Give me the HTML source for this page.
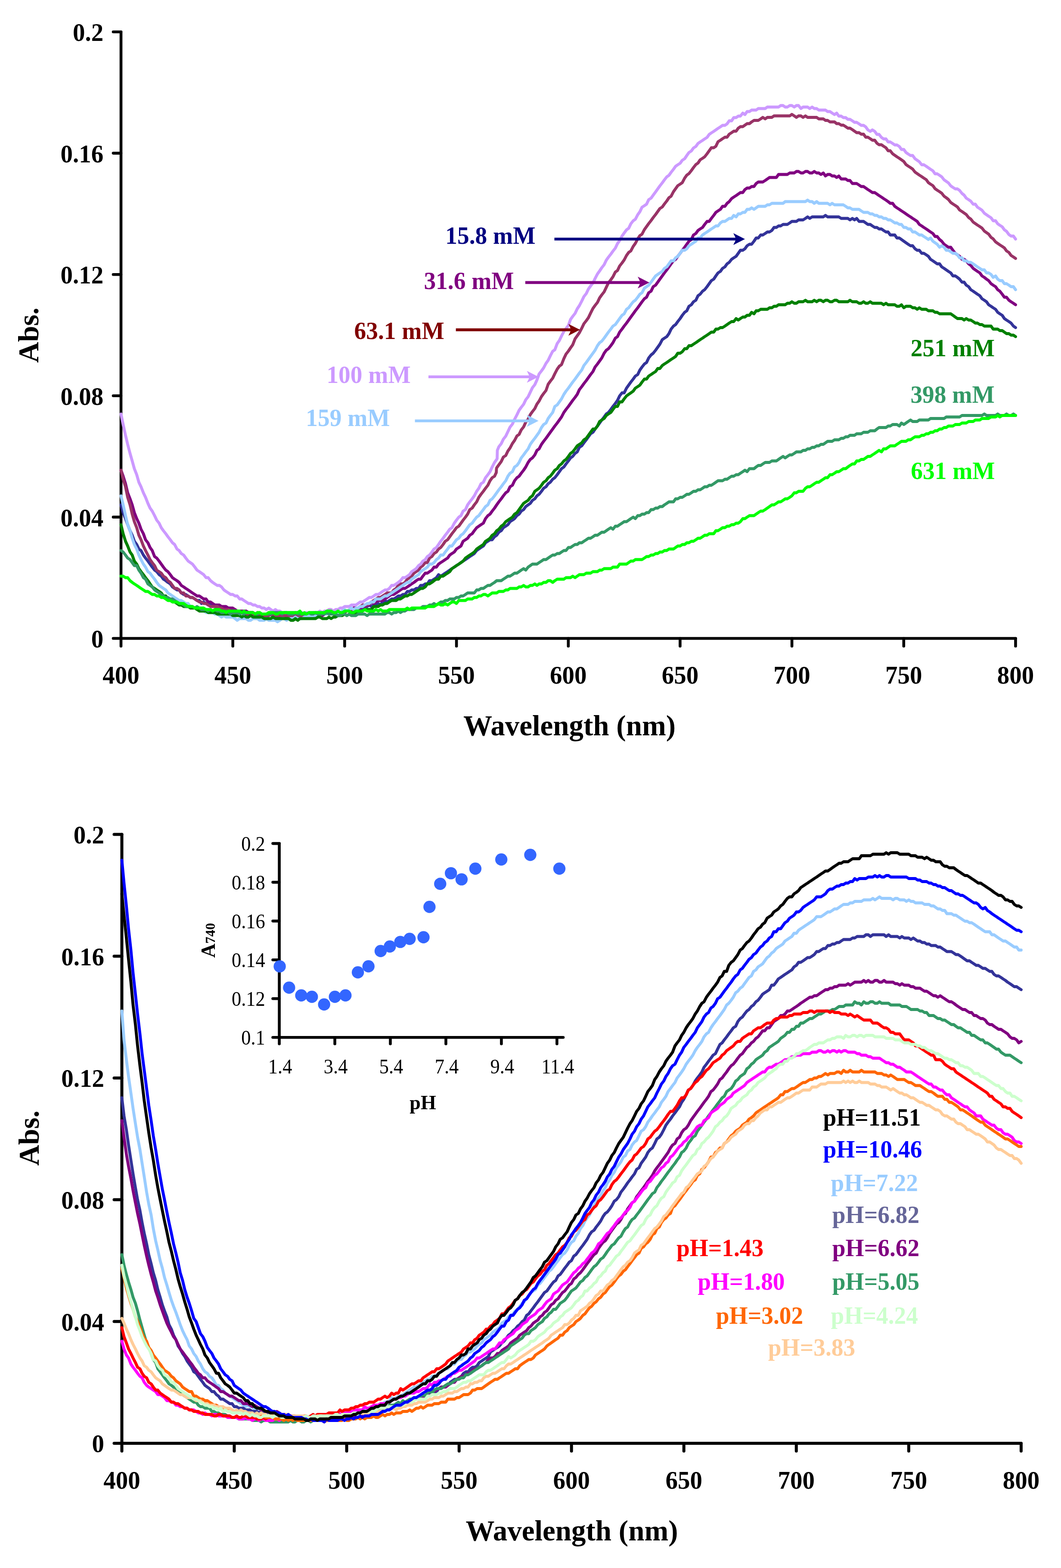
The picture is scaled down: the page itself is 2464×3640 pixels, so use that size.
<!DOCTYPE html>
<html><head><meta charset="utf-8"><title>Absorbance spectra</title>
<style>html,body{margin:0;padding:0;background:#fff;}svg{display:block;}</style></head>
<body>
<svg width="2464" height="3640" viewBox="0 0 2464 3640">
<rect width="2464" height="3640" fill="#fff"/>
<g stroke="#000" stroke-width="6.6" stroke-linecap="round" stroke-linejoin="round" fill="none">
<path d="M281.0 74.0L281.0 1482.0L2358.5 1482.0" fill="none"/>
<path d="M263.0 1482.0L281.0 1482.0"/>
<path d="M263.0 1200.4L281.0 1200.4"/>
<path d="M263.0 918.8L281.0 918.8"/>
<path d="M263.0 637.2L281.0 637.2"/>
<path d="M263.0 355.6L281.0 355.6"/>
<path d="M263.0 74.0L281.0 74.0"/>
<path d="M281.0 1482.0L281.0 1500.0"/>
<path d="M540.7 1482.0L540.7 1500.0"/>
<path d="M800.4 1482.0L800.4 1500.0"/>
<path d="M1060.1 1482.0L1060.1 1500.0"/>
<path d="M1319.8 1482.0L1319.8 1500.0"/>
<path d="M1579.4 1482.0L1579.4 1500.0"/>
<path d="M1839.1 1482.0L1839.1 1500.0"/>
<path d="M2098.8 1482.0L2098.8 1500.0"/>
<path d="M2358.5 1482.0L2358.5 1500.0"/>
</g>
<g fill="none" stroke-width="6.8" stroke-linecap="round" stroke-linejoin="round">
<path d="M281 1172l5 18 5.5 14 5 14 5.5 14 5 10.5 5 14 5.5 7.5 5 10.5 5 3.5 5.5 10.5 5 7 5.5 7 5 7 5 7 5.5 7 5 3.5 5.5 7 5 3.5 5 7 5.5 3.5 5 4 5.5 3.5 5 7 5 3.5 5.5 3.5 5 0 5 7 5.5 3.5 5 0 5.5 3.5 5 3.5 5 0 5.5 3.5 5 3.5 5.5 0 5 7 5-3.5 5.5 3.5 5 3.5 5.5 0 5 0 5 3.5 5.5 3.5 5 0 5 0 5.5 0 5 3.5 5.5 0 5 0 5 3.5 5.5 0 5 0 5.5 0 5 3.5 5 0 5.5 0 5 3.5 5-3.5 5.5 3.5 5 3.5 5.5-3.5 5 3.5 5-3.5 5.5 3.5 5 0 5.5 0 5-3.5 5 7 5.5-3.5 5 0 5.5 0 5 0 5 3.5 5.5-3.5 5 3.5 5-3.5 5.5 0 5 0 5.5 3.5 5-3.5 5 0 5.5 0 5 0 5.5 0 5 0 5 0 5.5 0 5-3.5 5 3.5 5.5 0 5-3.5 5.5 0 5 0 5 0 5.5 0 5-3.5 5.5 0 5 0 5 0 5.5 0 5-3.5 5.5 0 5-3.5 5 3.5 5.5-3.5 5 0 5-3.5 5.5 0 5-3.5 5.5 0 5-3.5 5 3.5 5.5-3.5 5 0 5.5-3.5 5 3.5 5-7 5.5-3.5 5 3.5 5-3.5 5.5-3.5 5 0 5.5-3.5 5-3.5 5 0 5.5-3.5 5 0 5.5-7 5 0 5-3.5 5.5 0 5-3.5 5.5 0 5-7 5 0 5.5-3.5 5 0 5-7.5 5.5 0 5-3.5 5.5-3.5 5-7 5 3.5 5.5-3.5 5-3.5 5.5-3.5 5-3.5 5-3.5 5.5-3.5 5-3.5 5.5-3.5 5-3.5 5-3.5 5.5-3.5 5-3.5 5-3.5 5.5-3.5 5-3.5 5.5-7 5-3.5 5-3.5 5.5-3.5 5-7.5 5.5-3.5 5-3.5 5 0 5.5-7 5-3.5 5-7 5.5-3.5 5-7 5.5-3.5 5-3.5 5-7 5.5-3.5 5-3.5 5.5-7 5-3.5 5-7 5.5-3.5 5-7 5.5-4 5-3.5 5-7 5.5-3.5 5-7 5-3.5 5.5-7 5-7 5.5-3.5 5-7 5-3.5 5.5-7 5-3.5 5.5-7 5-7 5-7 5.5-4 5-7 5.5-7 5-7 5-3.5 5.5-7 5-3.5 5-10.5 5.5-3.5 5-7 5.5-7 5-7 5-7 5.5-3.5 5-7.5 5.5-7 5-7 5-7 5.5-7 5-7 5-3.5 5.5-7 5-7 5.5-7 5-7 5-10.5 5.5-7 5 0 5.5-11 5-7 5-7 5.5-7 5-7 5.5-3.5 5-10.5 5-7 5.5-7 5-3.5 5-10.5 5.5-7 5-4 5.5-7 5-7 5-7 5.5-10.5 5-3.5 5.5-3.5 5-7 5-10.5 5.5-7 5-3.5 5-7 5.5-7 5-7.5 5.5-7 5-3.5 5-10.5 5.5-3.5 5-7 5.5-3.5 5-10.5 5-3.5 5.5-7 5-3.5 5.5-7 5-7 5-7 5.5-3.5 5-7.5 5-7 5.5-3.5 5-7 5.5-3.5 5-7 5-3.5 5.5-7 5-3.5 5.5-3.5 5-7 5-7 5.5 0 5-3.5 5-7 5.5-3.5 5 0 5.5-7 5-7.5 5 0 5.5-7 5 0 5.5-3.5 5-3.5 5 0 5.5-3.5 5-7 5.5 0 5-3.5 5 0 5.5-3.5 5 0 5 0 5.5-3.5 5-3.5 5.5 0 5 0 5-3.5 5.5 0 5 0 5.5-3.5 5-3.5 5 3.5 5.5-3.5 5 0 5.5 0 5 0 5 0 5.5 0 5-3.5 5 3.5 5.5 0 5 0 5.5 0 5 0 5 0 5.5 3.5 5 0 5.5 0 5 0 5 3.5 5.5-3.5 5 3.5 5-3.5 5.5 7 5 0 5.5 0 5 3.5 5 3.5 5.5 0 5 3.5 5.5 3.5 5 0 5 3.5 5.5 0 5 3.5 5.5 3.5 5 0 5 7 5.5 0 5 0 5 7 5.5 0 5 3.5 5.5 4 5 3.5 5 3.5 5.5 3.5 5 0 5.5 7 5 3.5 5 0 5.5 7 5 0 5.5 3.5 5 3.5 5 7 5.5 3.5 5 3.5 5 3.5 5.5 0 5 7 5.5 3.5 5 3.5 5 3.5 5.5 3.5 5 7 5.5 0 5 3.5 5 4 5.5 7 5 0 5 7 5.5 3.5 5 7 5.5 3.5 5 3.5 5 3.5 5.5 3.5 5 7 5.5 3.5 5 3.5 5 7 5.5 3.5 5 3.5 5.5 3.5 5 7 5 3.5 5.5 3.5 5 7.5 5 3.5 5.5 3.5 5 3.5 5.5 7 5 3.5" stroke="#333399"/>
<path d="M281 1091.5l5 14 5.5 17.5 5 21 5.5 14 5 14 5 18 5.5 14 5 10.5 5 14 5.5 10.5 5 14 5.5 7 5 11 5 7 5.5 14 5 3.5 5.5 7 5 7 5 7 5.5 7 5 3.5 5.5 7 5 7 5 3.5 5.5 3.5 5 4 5 7 5.5 3.5 5 3.5 5.5 3.5 5 3.5 5 3.5 5.5 3.5 5 3.5 5.5 0 5 3.5 5 3.5 5.5 0 5 7 5.5 0 5 3.5 5 3.5 5.5 0 5 0 5 3.5 5.5 0 5 0 5.5 3.5 5 0 5 0 5.5 3.5 5 3.5 5.5 0 5 0 5 0 5.5 0 5 3.5 5 0 5.5 0 5 3.5 5.5-3.5 5 3.5 5 0 5.5 0 5 0 5.5 0 5 0 5 3.5 5.5 0 5 3.5 5.5-3.5 5 0 5 3.5 5.5-3.5 5 3.5 5-3.5 5.5 0 5 3.5 5.5-3.5 5 0 5 3.5 5.5 0 5-3.5 5.5 0 5 3.5 5-3.5 5.5 0 5 0 5 0 5.5 0 5-3.5 5.5 0 5 0 5 0 5.5-3.5 5 0 5.5 3.5 5-3.5 5 0 5.5-3.5 5 0 5.5 0 5-3.5 5-3.5 5.5 0 5 0 5 0 5.5-3.5 5 0 5.5-3.5 5 0 5-7 5.5 3.5 5-3.5 5.5-3.5 5 0 5 0 5.5-3.5 5-3.5 5-3.5 5.5-3.5 5 0 5.5-3.5 5-3.5 5-3.5 5.5-3.5 5 0 5.5-3.5 5-3.5 5-3.5 5.5-3.5 5-4 5.5-3.5 5 0 5-7 5.5-7 5 0 5-3.5 5.5-3.5 5-7 5.5 0 5-7 5-3.5 5.5-3.5 5-3.5 5.5-3.5 5-7 5-3.5 5.5-3.5 5-7 5.5-3.5 5-3.5 5-11 5.5-3.5 5-3.5 5-7 5.5-3.5 5-7 5.5-7 5-3.5 5-3.5 5.5-3.5 5-10.5 5.5-7 5-3.5 5-7 5.5-7 5-7.5 5-7 5.5-7 5-7 5.5-7 5-3.5 5-10.5 5.5-3.5 5-10.5 5.5-7 5-3.5 5-7 5.5-7 5-7.5 5.5-10.5 5-7 5-3.5 5.5-7 5-10.5 5-3.5 5.5-10.5 5-7 5.5-7 5-7 5-7 5.5-7.5 5-7 5.5-7 5-7 5-7 5.5-10.5 5-7 5.5-7 5-7 5-7 5.5-7 5-7 5-11 5.5-7 5-7 5.5-7 5-7 5-7 5.5-7 5-10.5 5.5-7 5-7 5-7 5.5-11 5-7 5-3.5 5.5-7 5-7 5.5-10.5 5-3.5 5-10.5 5.5-7 5-7 5.5-7 5-7 5-7 5.5-7.5 5-7 5.5-7 5-7 5-7 5.5-7 5-3.5 5-10.5 5.5-3.5 5-10.5 5.5-3.5 5-7 5-7 5.5-7.5 5-7 5.5-7 5-7 5-7 5.5-7 5-3.5 5-7 5.5-7 5-7 5.5-7 5-7 5-7 5.5-4 5-10.5 5.5-3.5 5-7 5-3.5 5.5-3.5 5-7 5.5-7 5 0 5-7 5.5-7 5-7 5-3.5 5.5-3.5 5-7 5.5 0 5-7 5-4 5.5-7 5-3.5 5.5-3.5 5-3.5 5-3.5 5.5 0 5-7 5-3.5 5.5 0 5-3.5 5.5 0 5-7 5-3.5 5.5 0 5 0 5.5-3.5 5-3.5 5-3.5 5.5 0 5 0 5.5 0 5-7 5 0 5.5 0 5 0 5 0 5.5-3.5 5 0 5.5 0 5-3.5 5 0 5.5 3.5 5 0 5.5-3.5 5 0 5 3.5 5.5 0 5-3.5 5.5 3.5 5 0 5 3.5 5.5-3.5 5 7 5-3.5 5.5 0 5 3.5 5.5 0 5 3.5 5-3.5 5.5 7 5 0 5.5 0 5 3.5 5 0 5.5 7 5 0 5 0 5.5 3.5 5 3.5 5.5 0 5 3.5 5 3.5 5.5 3.5 5 3.5 5.5 0 5 3.5 5 3.5 5.5 3.5 5 3.5 5.5 3.5 5 3.5 5 4 5.5 0 5 7 5 3.5 5.5 3.5 5 3.5 5.5 3.5 5 3.5 5 3.5 5.5 3.5 5 3.5 5.5 3.5 5 3.5 5 7 5.5 3.5 5 3.5 5.5 3.5 5 3.5 5 3.5 5.5 3.5 5 7 5 0 5.5 7 5 4 5.5 7 5 3.5 5 3.5 5.5 0 5 7 5.5 7 5 3.5 5 3.5 5.5 7 5 0 5 3.5 5.5 7 5 3.5 5.5 7 5 3.5 5 3.5 5.5 3.5 5 7 5.5 3.5 5 4 5 3.5 5.5 7 5 3.5 5.5 3.5 5 7 5 3.5 5.5 7 5 7 5 0 5.5 7 5 3.5 5.5 3.5 5 3.5" stroke="#800080"/>
<path d="M281 1091.5l5 21 5.5 17.5 5 24.5 5.5 17.5 5 21.5 5 17.5 5.5 14 5 17.5 5 10.5 5.5 14.5 5 10.5 5.5 10.5 5 10.5 5 7 5.5 7 5 10.5 5.5 3.5 5 3.5 5 7 5.5 3.5 5 7 5.5 4 5 7 5 7 5.5 0 5 3.5 5 7 5.5 0 5 7 5.5 0 5 3.5 5 0 5.5 3.5 5 3.5 5.5 3.5 5 0 5 3.5 5.5 0 5 3.5 5.5 3.5 5 0 5 0 5.5 0 5 3.5 5 0 5.5 3.5 5 0 5.5 0 5 3.5 5 0 5.5 3.5 5 0 5.5 0 5 0 5 3.5 5.5 0 5 0 5 0 5.5 0 5 0 5.5 0 5 0 5 0 5.5 3.5 5 0 5.5 0 5-3.5 5 3.5 5.5 0 5 0 5.5 0 5 0 5 0 5.5 0 5 0 5 0 5.5 0 5 0 5.5 0 5 0 5 0 5.5-3.5 5 3.5 5.5 0 5 0 5 0 5.5-3.5 5 3.5 5 0 5.5-3.5 5 0 5.5 0 5 0 5 0 5.5-3.5 5 0 5.5 0 5 0 5-3.5 5.5 3.5 5-3.5 5.5 0 5 0 5-3.5 5.5-3.5 5 0 5-3.5 5.5-3.5 5 0 5.5 0 5-3.5 5-3.5 5.5-3.5 5-3.5 5.5-3.5 5 0 5-3.5 5.5-3.5 5-3.5 5 0 5.5 0 5-7 5.5-3.5 5-7 5-3.5 5.5 0 5-3.5 5.5-7.5 5-3.5 5-3.5 5.5-7 5-3.5 5.5-3.5 5-7 5-3.5 5.5-7 5 0 5-10.5 5.5-3.5 5-7 5.5-3.5 5-7 5-3.5 5.5-7 5-7.5 5.5-3.5 5-7 5-7 5.5-7 5-7 5.5-3.5 5-7 5-7 5.5-7 5-7 5-10.5 5.5-3.5 5-7.5 5.5-7 5-10.5 5-7 5.5-7 5-7 5.5-7 5-10.5 5-7 5.5-3.5 4-8.5 0.5-9 0.5-2 5-7 5.5-7.5 5-10.5 5.5-3.5 5-10.5 5-7 5.5-10.5 5-7 5.5-10.5 5-3.5 5-10.5 5.5-7 5-11 5.5-7 5-10.5 5-7 5.5-7 5-10.5 5-7 5.5-10.5 5-7 5.5-7 5-14.5 5-7 5.5-7 5-10.5 5.5-10.5 5-7 5-3.5 5.5-14 5-10.5 5.5-7 5-7.5 5-7 5.5-14 5-7 5-7 5.5-10.5 5-10.5 5.5-7 5-7 5-10.5 5.5-11 5-7 5.5-7 5-10.5 5-7 5.5-7 5-10.5 5-10.5 5.5-7 5-7 5.5-11 5-3.5 5-10.5 5.5-7 5-7 5.5-10.5 5-7 5-3.5 5.5-10.5 5-7 5.5-10.5 5-7.5 5-3.5 5.5-10.5 5-7 5-7 5.5-7 5-7 5.5-7 5-7 5-7 5.5-3.5 5-7 5.5-7 5-7.5 5-3.5 5.5-10.5 5-7 5-7 5.5-3.5 5-3.5 5.5-10.5 5-7 5-3.5 5.5-7 5-7 5.5-7 5-3.5 5-7.5 5.5-3.5 5-3.5 5.5-7 5-7 5-7 5.5 0 5-3.5 5-10.5 5.5-3.5 5-3.5 5.5-3.5 5 0 5-7 5.5-3.5 5-3.5 5.5 0 5-7 5-3.5 5.5 0 5-3.5 5-3.5 5.5 0 5-4 5.5-3.5 5 0 5 0 5.5-3.5 5-3.5 5.5 3.5 5-3.5 5 0 5.5 0 5-3.5 5.5 0 5 0 5 0 5.5 0 5 0 5 0 5.5 0 5-3.5 5.5 3.5 5 3.5 5-3.5 5.5 0 5 3.5 5.5-3.5 5 3.5 5 0 5.5 0 5 0 5.5 0 5 3.5 5 0 5.5 0 5 3.5 5 0 5.5 3.5 5 0 5.5 0 5 4 5 0 5.5 3.5 5 0 5.5 3.5 5 3.5 5 0 5.5 3.5 5 3.5 5 3.5 5.5 0 5 3.5 5.5 0 5 7 5 0 5.5 3.5 5 3.5 5.5 0 5 7 5 3.5 5.5 0 5 3.5 5.5 3.5 5 7 5 0 5.5 7 5 3.5 5 3.5 5.5 3.5 5 3.5 5.5 4 5 7 5 3.5 5.5 3.5 5 3.5 5.5 7 5 3.5 5 3.5 5.5 3.5 5 3.5 5.5 3.5 5 7 5 3.5 5.5 3.5 5 7 5 3.5 5.5 3.5 5 3.5 5.5 7 5 3.5 5 4 5.5 7 5 3.5 5.5 3.5 5 3.5 5 7 5.5 3.5 5 3.5 5 3.5 5.5 7 5 3.5 5.5 7 5 3.5 5 3.5 5.5 3.5 5 3.5 5.5 7 5 3.5 5 3.5 5.5 7.5 5 3.5 5.5 7 5 3.5 5 3.5 5.5 3.5 5 3.5 5 7 5.5 3.5 5 7 5.5 3.5 5 3.5" stroke="#993366"/>
<path d="M281 961l5 24.5 5.5 25 5 21 5.5 21 5 17.5 5 18 5.5 14 5 17.5 5 10.5 5.5 14 5 10.5 5.5 14 5 11 5 7 5.5 10.5 5 10.5 5.5 7 5 10.5 5 7 5.5 7 5 7 5.5 7 5 7 5 4 5.5 10.5 5 3.5 5 7 5.5 3.5 5 7 5.5 7 5 3.5 5 3.5 5.5 7 5 7 5.5 3.5 5 3.5 5 3.5 5.5 7 5 0 5.5 7 5 4 5 3.5 5.5 3.5 5 0 5 3.5 5.5 7 5 3.5 5.5 3.5 5 3.5 5 0 5.5 3.5 5 0 5.5 7 5 0 5 3.5 5.5 3.5 5 3.5 5 0 5.5 3.5 5 0 5.5 3.5 5 0 5 3.5 5.5 0 5 3.5 5.5-3.5 5 3.5 5 3.5 5.5-3.5 5 3.5 5.5 0 5 3.5 5 0 5.5 0 5 0 5 0 5.5 0 5 0 5.5 0 5 0 5 0 5.5 3.5 5-3.5 5.5 3.5 5 0 5-3.5 5.5 0 5 0 5-3.5 5.5 3.5 5-3.5 5.5 0 5-3.5 5 0 5.5 3.5 5-3.5 5.5 0 5-3.5 5 0 5.5-3.5 5 0 5.5 0 5-3.5 5 0 5.5 0 5-3.5 5-3.5 5.5 0 5-3.5 5.5-3.5 5-3.5 5 0 5.5-3.5 5-3.5 5.5 0 5-3.5 5-3.5 5.5-3.5 5 0 5-3.5 5.5-7 5 0 5.5-3.5 5-3.5 5-4 5.5-7 5 0 5.5-3.5 5-3.5 5-7 5.5-3.5 5-3.5 5.5-7 5-3.5 5-7 5.5-3.5 5-7 5-3.5 5.5-7 5-7 5.5-3.5 5-7 5-7.5 5.5-7 5-7 5.5-7 5-7 5-3.5 5.5-10.5 5-7 5.5-7 5-3.5 5-10.5 5.5-3.5 5-11 5-7 5.5-7 5-7 5.5-10.5 5-7 5-10.5 5.5-3.5 5-10.5 5.5-7 5-7 5-11 5.5-10.5 5-7 1-2 0.5-19 3.5-8.5 5.5-7 5-10.5 5.5-7 5-10.5 5-10.5 5.5-7 5-11 5.5-10.5 5-10.5 5-7 5.5-7 5-10.5 5.5-7 5-10.5 5-10.5 5.5-7 5-11 5-14 5.5-7 5-7 5.5-10.5 5-7 5-10.5 5.5-10.5 5-3.5 5.5-14.5 5-7 5-10.5 5.5-10.5 5-7 5.5-7 5-14 5-7 5.5-7 5-10.5 5-7.5 5.5-10.5 5-10.5 5.5-7 5-10.5 5-7 5.5-7 5-10.5 5.5-10.5 5-7 5-7.5 5.5-7 5-10.5 5-7 5.5-7 5-7 5.5-7 5-10.5 5-7 5.5-10.5 5-7 5.5-7.5 5-3.5 5-10.5 5.5-7 5-3.5 5.5-10.5 5-7 5-10.5 5.5-3.5 5-3.5 5-10.5 5.5-3.5 5-7 5.5-7.5 5-7 5-7 5.5-7 5-7 5.5-7 5-3.5 5-7 5.5-7 5-7 5-3.5 5.5-3.5 5-7 5.5-3.5 5-7.5 5-7 5.5-3.5 5-7 5.5-3.5 5-7 5-3.5 5.5-3.5 5-3.5 5.5-3.5 5-7 5-3.5 5.5-3.5 5-3.5 5-3.5 5.5-3.5 5-3.5 5.5 0 5-3.5 5-7 5.5 0 5-7.5 5.5 0 5-3.5 5 0 5.5-7 5 3.5 5-7 5.5 0 5-3.5 5.5 0 5 0 5-3.5 5.5 0 5 0 5.5 0 5-3.5 5 0 5.5 0 5 0 5.5 0 5 0 5-3.5 5.5 0 5 3.5 5 0 5.5-3.5 5 0 5.5 3.5 5-3.5 5 0 5.5 7 5-3.5 5.5 0 5 0 5 3.5 5.5-3.5 5 3.5 5.5 0 5 3.5 5 0 5.5 0 5 0 5 3.5 5.5 0 5 3.5 5.5 3.5 5-3.5 5 7 5.5 0 5 3.5 5.5 0 5 4 5 0 5.5 3.5 5 3.5 5 0 5.5 3.5 5 3.5 5.5 0 5 3.5 5 7 5.5 3.5 5-3.5 5.5 3.5 5 7 5 0 5.5 7 5 3.5 5.5 0 5 7 5 0 5.5 3.5 5 3.5 5 0 5.5 3.5 5 7 5.5 0 5 7 5 3.5 5.5 3.5 5 0 5.5 7.5 5 3.5 5 3.5 5.5 7 5 0 5.5 3.5 5 3.5 5 3.5 5.5 3.5 5 7 5 0 5.5 3.5 5 3.5 5.5 7 5 3.5 5 3.5 5.5 7 5 3.5 5.5 3.5 5 0 5 3.5 5.5 7 5 4 5 7 5.5 3.5 5 3.5 5.5 7 5 0 5 7 5.5 3.5 5 3.5 5.5 7 5 3.5 5 3.5 5.5 3.5 5 7 5.5 0 5 7 5 3.5 5.5 3.5 5 7 5 3.5 5.5 7.5 5 3.5 5.5 0 5 7" stroke="#CC99FF"/>
<path d="M281 1151l5 21 5.5 25 5 21 5.5 14 5 17.5 5 14.5 5.5 10.5 5 14 5 10.5 5.5 10.5 5 7 5.5 10.5 5 3.5 5 7 5.5 7 5 7.5 5.5 7 5 3.5 5 3.5 5.5 3.5 5 7 5.5 3.5 5 3.5 5 3.5 5.5 3.5 5 3.5 5 0 5.5 3.5 5 3.5 5.5 0 5 7 5 0 5.5 3.5 5 0 5.5 3.5 5 0 5 3.5 5.5 3.5 5 0 5.5 0 5 0 5 3.5 5.5 0 5 3.5 5 3.5 5.5-3.5 5 3.5 5.5 0 5 0 5 0 5.5 3.5 5 4 5.5-4 5 0 5 0 5.5 0 5 4 5 0 5.5-4 5 0 5.5 0 5 4 5 0 5.5 0 5-4 5.5 4 5 0 5 0 5.5 0 5 3.5 5.5-3.5 5-4 5 0 5.5 4 5-4 5 0 5.5 0 5-3.5 5.5 3.5 5 0 5 0 5.5-3.5 5 0 5.5-3.5 5 3.5 5-3.5 5.5 0 5 0 5-3.5 5.5 0 5 0 5.5 0 5 0 5-3.5 5.5 0 5 0 5.5 0 5 0 5-3.5 5.5-3.5 5 3.5 5.5-3.5 5-3.5 5 3.5 5.5-3.5 5 0 5-3.5 5.5 0 5-3.5 5.5-3.5 5 0 5-3.5 5.5 0 5-7 5.5 0 5 0 5-3.5 5.5-3.5 5 0 5-3.5 5.5-3.5 5-3.5 5.5-3.5 5-3.5 5-3.5 5.5-3.5 5-3.5 5.5-3.5 5 0 5-7.5 5.5-3.5 5-3.5 5.5-3.5 5-7 5-3.5 5.5-3.5 5-3.5 5-7 5.5 0 5-3.5 5.5-7 5-3.5 5-7 5.5 0 5-7 5.5-7 5-7 5 0 5.5-7.5 5-7 5.5-3.5 5-7 5-3.5 5.5-7 5-7 5-7 5.5-3.5 5-7 5.5-7 5-3.5 5-7 5.5-7 5-7 5.5-4 5-10.5 5-3.5 5.5-7 5-7 5-7 5.5-7 5-7 5.5-7 5-10.5 5-7 5.5-3.5 5-11 5.5-3.5 5-7 5-10.5 5.5-7 5-7 5.5-7 5-10.5 5-7 5.5-7 5-7 5-7 5.5-11 5-7 5.5-3.5 5-10.5 5-7 5.5-7 5-14 5.5-3.5 5-7 5-7 5.5-10.5 5-7.5 5.5-7 5-7 5-7 5.5-7 5-7 5-7 5.5-7 5-10.5 5.5-7 5-7 5-7 5.5-7.5 5-7 5.5-10.5 5-7 5-3.5 5.5-7 5-7 5-7 5.5-7 5-7 5.5-3.5 5-7 5-7 5.5-7.5 5-3.5 5.5-10.5 5-3.5 5-7 5.5-7 5-3.5 5.5-7 5-7 5-3.5 5.5-10.5 5-3.5 5-3.5 5.5-7 5-7 5.5-7.5 5-3.5 5-3.5 5.5-3.5 5-7 5.5-3.5 5-7 5-7 5.5 0 5-7 5-3.5 5.5-7 5-7 5.5 0 5-3.5 5-7 5.5-3.5 5-3.5 5.5-3.5 5-7.5 5 0 5.5-7 5-3.5 5.5-3.5 5-3.5 5-3.5 5.5-3.5 5-3.5 5 0 5.5-7 5-3.5 5.5 0 5-3.5 5-3.5 5.5 0 5-7 5.5 3.5 5-7 5 0 5.5-3.5 5 0 5-7 5.5 0 5-3.5 5.5 3.5 5-3.5 5-3.5 5.5 0 5 0 5.5 0 5-3.5 5 0 5.5-3.5 5 0 5.5 0 5 0 5 0 5.5 0 5-4 5 0 5.5 0 5 0 5.5 0 5 0 5 0 5.5 0 5 0 5.5 0 5-3.5 5 3.5 5.5 0 5 4 5.5-4 5 4 5 0 5.5 0 5 0 5 0 5.5 3.5 5-3.5 5.5 3.5 5 0 5 0 5.5 0 5 0 5.5 3.5 5 3.5 5 0 5.5 3.5 5 0 5 0 5.5 0 5 3.5 5.5 3.5 5 0 5 0 5.5 3.5 5 0 5.5 3.5 5 0 5 3.5 5.5 0 5 3.5 5.5 0 5 3.5 5 0 5.5 3.5 5 3.5 5 0 5.5 3.5 5 0 5.5 7 5 0 5 3.5 5.5 0 5 7 5.5 0 5 3.5 5 3.5 5.5 0 5 3.5 5.5 3.5 5 3.5 5-3.5 5.5 7.5 5 3.5 5 3.5 5.5 7 5-3.5 5.5 3.5 5 7 5 0 5.5 3.5 5 3.5 5.5 0 5 3.5 5 7 5.5 0 5 7 5 0 5.5 3.5 5 0 5.5 3.5 5 3.5 5 3.5 5.5 3.5 5 3.5 5.5 0 5 7 5 0 5.5 3.5 5 7 5.5-3.5 5 7.5 5 3.5 5.5 0 5 7 5 0 5.5 3.5 5 3.5 5.5 0 5 7" stroke="#99CCFF"/>
<path d="M281 1218l5 21 5.5 17.5 5 11 5.5 14 5 7 5 14 5.5 7 5 10.5 5 7 5.5 7 5 7 5.5 7 5 7.5 5 7 5.5 3.5 5 3.5 5.5 3.5 5 3.5 5 7 5.5 0 5 7 5.5 3.5 5 0 5 3.5 5.5 3.5 5 3.5 5 0 5.5 3.5 5 0 5.5 0 5 3.5 5 0 5.5 0 5 3.5 5.5 3.5 5 0 5 0 5.5 0 5 3.5 5.5 0 5 0 5 0 5.5 3.5 5 0 5 0 5.5 0 5 0 5.5 0 5 0 5 3.5 5.5 0 5 0 5.5 0 5 3.5 5-3.5 5.5 3.5 5 0 5-3.5 5.5 3.5 5 0 5.5 0 5 0 5 0 5.5 3.5 5 0 5.5 0 5 0 5-3.5 5.5 3.5 5 0 5.5 0 5 0 5 0 5.5 0 5 0 5 4 5.5 0 5-4 5.5 4 5-4 5 0 5.5 0 5 0 5.5 0 5 0 5 0 5.5 0 5-3.5 5 0 5.5 3.5 5 0 5.5 0 5-3.5 5 3.5 5.5-3.5 5 0 5.5-3.5 5 0 5 0 5.5-3.5 5 3.5 5.5-3.5 5-3.5 5 3.5 5.5-3.5 5 0 5-3.5 5.5 0 5-3.5 5.5 0 5 0 5 0 5.5-7 5 0 5.5 0 5-3.5 5 0 5.5-3.5 5 0 5-3.5 5.5-3.5 5 0 5.5 0 5-3.5 5 0 5.5-3.5 5-3.5 5.5 0 5-3.5 5 0 5.5-3.5 5-3.5 5.5-3.5 5-3.5 5 0 5.5-3.5 5-7 5 0 5.5-3.5 5-4 5.5-3.5 5 0 5-7 5.5 0 5-3.5 5.5-3.5 5-3.5 5-7 5.5-3.5 5-3.5 5.5-3.5 5-3.5 5-3.5 5.5-7 5-3.5 5-3.5 5.5-3.5 5-3.5 5.5-7 5-3.5 5-3.5 5.5-3.5 5-7.5 5.5-3.5 5-3.5 5-7 5.5-3.5 5-7 5-3.5 5.5-7 5-3.5 5.5-7 5-3.5 5-3.5 5.5-3.5 5-7 5.5-3.5 5-7 5-7 5.5-7.5 5-3.5 5.5-3.5 5-7 5-3.5 5.5-10.5 5-3.5 5-3.5 5.5-7 5-7 5.5-3.5 5-7 5-3.5 5.5-7 5-7 5.5-3.5 5-7.5 5-3.5 5.5-7 5-3.5 5.5-7 5-7 5-3.5 5.5-7 5-7 5-3.5 5.5-3.5 5-7 5.5-3.5 5-7 5-7 5.5-7.5 5 0 5.5-7 5-10.5 5-3.5 5.5-3.5 5-7 5-3.5 5.5-3.5 5-7 5.5-7 5 0 5-10.5 5.5 0 5-7 5.5-7 5-3.5 5-3.5 5.5-4 5-7 5.5-3.5 5-3.5 5-7 5.5-7 5 0 5-7 5.5-3.5 5-3.5 5.5-3.5 5-7 5 0 5.5-7 5-3.5 5.5-3.5 5-3.5 5-3.5 5.5-3.5 5-3.5 5-7.5 5.5 0 5-3.5 5.5-7 5 0 5-7 5.5 0 5-3.5 5.5-3.5 5-3.5 5-3.5 5.5-3.5 5-3.5 5.5-3.5 5-3.5 5-3.5 5.5 0 5-7 5 0 5.5-3.5 5 0 5.5-3.5 5-3.5 5-3.5 5.5-3.5 5 0 5.5-7 5 3.5 5-3.5 5.5-3.5 5 0 5-4 5.5 0 5-7 5.5 3.5 5-7 5 0 5.5-3.5 5 0 5.5 0 5 0 5-3.5 5.5 0 5-3.5 5.5 0 5-3.5 5 0 5.5 0 5 0 5-3.5 5.5 0 5-3.5 5.5 3.5 5 0 5-3.5 5.5 0 5 0 5.5-3.5 5 3.5 5 0 5.5 0 5-3.5 5.5 3.5 5-3.5 5 0 5.5 3.5 5-3.5 5 0 5.5 3.5 5 0 5.5-3.5 5 0 5 3.5 5.5 0 5 0 5.5 0 5 0 5-3.5 5.5 3.5 5 0 5 0 5.5 3.5 5 0 5.5-3.5 5 3.5 5 0 5.5-3.5 5 3.5 5.5 0 5 0 5 0 5.5 0 5 3.5 5.5-3.5 5 3.5 5 0 5.5 0 5 0 5 3.5 5.5 0 5-3.5 5.5 7 5-3.5 5 0 5.5 0 5 3.5 5.5 0 5 3.5 5-3.5 5.5 3.5 5 0 5.5 0 5 3.5 5 0 5.5 0 5 3.5 5 0 5.5 3.5 5 0 5.5 0 5 0 5 0 5.5 0 5 3.5 5.5 4 5 3.5 5 0 5.5 0 5 3.5 5-3.5 5.5 3.5 5 0 5.5 3.5 5 3.5 5 0 5.5 3.5 5 0 5.5 3.5 5 0 5 0 5.5 0 5 7 5.5 0 5 0 5 3.5 5.5 0 5 3.5 5 3.5 5.5 0 5 3.5 5.5 0 5 3.5" stroke="#008000"/>
<path d="M281 1278l5 3.5 5.5 7 5 7 5.5 3.5 5 7 5 7 5.5 0 5 10.5 5 7 5.5 10.5 5 3.5 5.5 11 5 3.5 5 3.5 5.5 7 5 3.5 5.5 3.5 5 3.5 5 3.5 5.5 3.5 5 0 5.5 3.5 5 0 5 3.5 5.5 3.5 5 3.5 5 0 5.5 3.5 5 3.5 5.5 0 5 0 5 0 5.5 3.5 5-3.5 5.5 3.5 5 3.5 5 0 5.5 0 5 3.5 5.5-3.5 5 3.5 5-3.5 5.5 3.5 5 0 5 3.5 5.5 0 5-3.5 5.5 3.5 5 3.5 5-3.5 5.5 0 5 0 5.5 3.5 5-3.5 5 3.5 5.5-3.5 5 0 5 0 5.5 0 5 3.5 5.5 0 5-3.5 5 3.5 5.5 0 5 0 5.5 0 5 0 5-3.5 5.5 0 5 0 5.5 0 5 3.5 5-3.5 5.5 0 5 3.5 5 0 5.5 0 5-3.5 5.5 3.5 5 0 5 0 5.5 0 5 0 5.5-3.5 5 3.5 5 0 5.5-3.5 5 3.5 5 0 5.5 0 5 0 5.5-3.5 5 3.5 5 0 5.5 0 5 0 5.5 3.5 5 0 5-3.5 5.5 0 5 3.5 5.5-3.5 5 3.5 5 0 5.5 0 5-3.5 5 0 5.5 0 5 0 5.5 3.5 5-3.5 5 0 5.5 0 5 0 5.5 0 5 0 5 0 5.5 0 5-3.5 5 0 5.5 3.5 5-3.5 5.5 0 5-3.5 5 3.5 5.5-3.5 5 0 5.5-3.5 5 0 5 0 5.5 0 5-3.5 5.5 0 5 0 5-3.5 5.5 0 5 0 5-3.5 5.5 0 5-3.5 5.5 3.5 5-3.5 5-3.5 5.5 0 5-3.5 5.5 0 5-3.5 5 0 5.5 0 5-3.5 5.5 0 5-3.5 5 0 5.5-3.5 5-3.5 5 0 5.5 0 5 0 5.5-7 5 0 5-3.5 5.5 0 5-3.5 5.5-3.5 5 0 5-3.5 5.5-3.5 5-4 5 0 5.5 0 5-3.5 5.5-3.5 5-3.5 5 0 5.5-3.5 5-3.5 5.5 0 5-3.5 5-3.5 5.5-3.5 5 3.5 5.5-7 5-3.5 5-3.5 5.5 0 5 0 5-3.5 5.5-3.5 5-3.5 5.5 0 5-3.5 5-3.5 5.5-3.5 5 0 5.5-3.5 5 0 5-3.5 5.5-3.5 5 0 5.5-7 5 0 5-3.5 5.5-3.5 5 0 5-4 5.5 0 5-3.5 5.5-3.5 5-3.5 5 0 5.5-3.5 5-3.5 5.5 0 5-3.5 5-3.5 5.5 0 5-3.5 5-3.5 5.5-3.5 5 3.5 5.5-7 5 0 5-3.5 5.5-3.5 5-3.5 5.5 0 5-3.5 5-3.5 5.5-3.5 5 3.5 5.5-7 5 0 5-3.5 5.5 0 5-3.5 5 0 5.5-7 5 0 5.5-3.5 5 0 5-3.5 5.5 0 5-4 5.5-3.5 5-3.5 5 0 5.5 0 5-7 5 0 5.5-3.5 5 0 5.5-3.5 5-3.5 5 0 5.5-3.5 5-3.5 5.5 0 5-3.5 5 0 5.5-3.5 5-3.5 5.5 0 5-3.5 5 0 5.5-3.5 5-3.5 5-3.5 5.5 0 5 0 5.5-3.5 5 0 5-3.5 5.5-3.5 5 0 5.5-3.5 5 0 5-3.5 5.5-3.5 5-3.5 5 3.5 5.5-7 5 0 5.5 0 5-4 5-3.5 5.5 0 5-3.5 5.5-3.5 5 0 5 0 5.5-3.5 5 0 5.5 0 5-3.5 5-3.5 5.5-3.5 5 3.5 5-3.5 5.5-3.5 5 0 5.5-3.5 5-3.5 5 0 5.5 0 5-3.5 5.5 0 5-3.5 5 0 5.5-3.5 5 0 5.5-3.5 5 0 5-3.5 5.5 0 5-3.5 5-3.5 5.5 0 5 0 5.5-3.5 5 0 5 0 5.5-3.5 5 0 5.5-3.5 5 0 5-3.5 5.5 0 5 0 5-3.5 5.5 0 5 0 5.5-3.5 5 0 5 0 5.5-3.5 5 0 5.5 0 5-4 5-3.5 5.5 0 5 0 5.5 0 5-3.5 5 0 5.5-3.5 5 0 5 0 5.5 3.5 5-7 5.5 3.5 5-3.5 5-3.5 5.5-3.5 5 3.5 5.5 0 5 0 5-3.5 5.5 0 5 0 5.5 0 5 0 5-3.5 5.5 0 5 0 5 0 5.5 0 5 0 5.5 0 5-3.5 5 0 5.5 0 5 0 5.5 0 5 0 5 0 5.5-3.5 5 0 5 0 5.5 0 5 0 5.5 0 5 0 5 0 5.5 0 5 0 5.5-3.5 5 3.5 5 0 5.5 0 5 0 5.5 0 5-3.5 5 3.5 5.5 0 5 0 5-3.5 5.5 3.5 5 0 5.5-3.5 5 3.5" stroke="#339966"/>
<path d="M281 1337.5l5 0 5.5 3.5 5 0 5.5 7 5 4 5 3.5 5.5 3.5 5 3.5 5 3.5 5.5 3.5 5 3.5 5.5 0 5 3.5 5 3.5 5.5 0 5 3.5 5.5 0 5 3.5 5 0 5.5 3.5 5 3.5 5.5 0 5 3.5 5 0 5.5 0 5 3.5 5 0 5.5 0 5 3.5 5.5 3.5 5 0 5 0 5.5 3.5 5 0 5.5 0 5 0 5 0 5.5 3.5 5 0 5.5 0 5 3.5 5-3.5 5.5 0 5 0 5 3.5 5.5 0 5 3.5 5.5-3.5 5 0 5 0 5.5 0 5 0 5.5 0 5 3.5 5-3.5 5.5 3.5 5 0 5 0 5.5 0 5 3.5 5.5-3.5 5 0 5 3.5 5.5 0 5 0 5.5-3.5 5 0 5 0 5.5 3.5 5 0 5.5-3.5 5 0 5 0 5.5 0 5 0 5 0 5.5 0 5 0 5.5 0 5-3.5 5 7 5.5-3.5 5 3.5 5.5-3.5 5 0 5 0 5.5 0 5 0 5 0 5.5 0 5 0 5.5-3.5 5 0 5 0 5.5 3.5 5 0 5.5-3.5 5 3.5 5 0 5.5-3.5 5 0 5.5 0 5 3.5 5 0 5.5-3.5 5 0 5 0 5.5 0 5-3.5 5.5 3.5 5 0 5 0 5.5 0 5-3.5 5.5 3.5 5-3.5 5 3.5 5.5 0 5 0 5-3.5 5.5 0 5 0 5.5 0 5 0 5 0 5.5 0 5 0 5.5-3.5 5 3.5 5-3.5 5.5 0 5 0 5.5 0 5 0 5 0 5.5 0 5-3.5 5 0 5.5 0 5 0 5.5-3.5 5-3.5 5 3.5 5.5 0 5-3.5 5.5 3.5 5-3.5 5-3.5 5.5 0 5 3.5 5.5-7 5 0 5 0 5.5 0 5-3.5 5 0 5.5 0 5-3.5 5.5 0 5-3.5 5 0 5.5-3.5 5 0 5.5 3.5 5-3.5 5-3.5 5.5 0 5 0 5-3.5 5.5 0 5 0 5.5-3.5 5 0 5-3.5 5.5 0 5 0 5.5 0 5-3.5 5 0 5.5-3.5 5 3.5 5.5 0 5-3.5 5 0 5.5-3.5 5 3.5 5-3.5 5.5 0 5-3.5 5.5 0 5-4 5 0 5.5 4 5-4 5.5-3.5 5 0 5 0 5.5 0 5-3.5 5.5 0 5 0 5-3.5 5.5 3.5 5-3.5 5-3.5 5.5 0 5 0 5.5-3.5 5 0 5 0 5.5-3.5 5 0 5.5 0 5-3.5 5 0 5.5-3.5 5 0 5 0 5.5 0 5-3.5 5.5 0 5 0 5-7 5.5 0 5 0 5.5 0 5-3.5 5-3.5 5.5 0 5-3.5 5.5 0 5 0 5 0 5.5-3.5 5-3.5 5 0 5.5-3.5 5 0 5.5-3.5 5 0 5-3.5 5.5 0 5-3.5 5.5 0 5-3.5 5 0 5.5 0 5-3.5 5-3.5 5.5 0 5-3.5 5.5 0 5-4 5 0 5.5-3.5 5 0 5.5-3.5 5-3.5 5 0 5.5-3.5 5-3.5 5.5 0 5-3.5 5 0 5.5 0 5-7 5 0 5.5-3.5 5-3.5 5.5 0 5-3.5 5 0 5.5-3.5 5 0 5.5-3.5 5 0 5-3.5 5.5-7 5 0 5-3.5 5.5-3.5 5 0 5.5 0 5-3.5 5-3.5 5.5-3.5 5 0 5.5-3.5 5-3.5 5-3.5 5.5-4 5 0 5.5-3.5 5-3.5 5 0 5.5-3.5 5-3.5 5 0 5.5-3.5 5-3.5 5.5-7 5 0 5-3.5 5.5 0 5 0 5.5-7 5-3.5 5 0 5.5-3.5 5-3.5 5.5-3.5 5 0 5-3.5 5.5-3.5 5-3.5 5 0 5.5-7 5 0 5.5-3.5 5-3.5 5 0 5.5-3.5 5-3.5 5.5 0 5-4 5-3.5 5.5-3.5 5 0 5-7 5.5 0 5-3.5 5.5 0 5-3.5 5-3.5 5.5 0 5-3.5 5.5-3.5 5-3.5 5-3.5 5.5 3.5 5-7 5.5 0 5-3.5 5-3.5 5.5 0 5 0 5-3.5 5.5-3.5 5-3.5 5.5 0 5 0 5-3.5 5.5 0 5-3.5 5.5-3.5 5 0 5 0 5.5-3.5 5 0 5.5-3.5 5 0 5-3.5 5.5 0 5-3.5 5 0 5.5-4 5 0 5.5-3.5 5 0 5-3.5 5.5 0 5 0 5.5-3.5 5 0 5 0 5.5-3.5 5 0 5 0 5.5-3.5 5 0 5.5 0 5-3.5 5 0 5.5 0 5-3.5 5.5 0 5 0 5 0 5.5-3.5 5 0 5.5 0 5-3.5 5 3.5 5.5-3.5 5 0 5 0 5.5 0 5 0 5.5 0 5 0" stroke="#00FF00"/>
</g>
<g font-family="Liberation Serif, serif">
<text transform="translate(240.2 1503.2) scale(1 1.035)" font-size="57" fill="#000" text-anchor="end" font-weight="bold">0</text>
<text transform="translate(240.2 1221.6) scale(1 1.035)" font-size="57" fill="#000" text-anchor="end" font-weight="bold">0.04</text>
<text transform="translate(240.2 940.0) scale(1 1.035)" font-size="57" fill="#000" text-anchor="end" font-weight="bold">0.08</text>
<text transform="translate(240.2 658.4) scale(1 1.035)" font-size="57" fill="#000" text-anchor="end" font-weight="bold">0.12</text>
<text transform="translate(240.2 376.8) scale(1 1.035)" font-size="57" fill="#000" text-anchor="end" font-weight="bold">0.16</text>
<text transform="translate(240.2 95.2) scale(1 1.035)" font-size="57" fill="#000" text-anchor="end" font-weight="bold">0.2</text>
<text transform="translate(281.0 1587.0) scale(1 1.035)" font-size="57" fill="#000" text-anchor="middle" font-weight="bold">400</text>
<text transform="translate(540.7 1587.0) scale(1 1.035)" font-size="57" fill="#000" text-anchor="middle" font-weight="bold">450</text>
<text transform="translate(800.4 1587.0) scale(1 1.035)" font-size="57" fill="#000" text-anchor="middle" font-weight="bold">500</text>
<text transform="translate(1060.1 1587.0) scale(1 1.035)" font-size="57" fill="#000" text-anchor="middle" font-weight="bold">550</text>
<text transform="translate(1319.8 1587.0) scale(1 1.035)" font-size="57" fill="#000" text-anchor="middle" font-weight="bold">600</text>
<text transform="translate(1579.4 1587.0) scale(1 1.035)" font-size="57" fill="#000" text-anchor="middle" font-weight="bold">650</text>
<text transform="translate(1839.1 1587.0) scale(1 1.035)" font-size="57" fill="#000" text-anchor="middle" font-weight="bold">700</text>
<text transform="translate(2098.8 1587.0) scale(1 1.035)" font-size="57" fill="#000" text-anchor="middle" font-weight="bold">750</text>
<text transform="translate(2358.5 1587.0) scale(1 1.035)" font-size="57" fill="#000" text-anchor="middle" font-weight="bold">800</text>
<text transform="translate(1322.5 1706.5) scale(1 1.02)" font-size="67" fill="#000" text-anchor="middle" font-weight="bold">Wavelength (nm)</text>
<text transform="translate(89 778) rotate(-90)" font-size="67" text-anchor="middle" font-weight="bold">Abs.</text>
<text transform="translate(1034.3 566.2) scale(1 1.04)" font-size="55.4" fill="#000080" text-anchor="start" font-weight="bold">15.8 mM</text>
<text transform="translate(984.4 671.0) scale(1 1.04)" font-size="55.4" fill="#800080" text-anchor="start" font-weight="bold">31.6 mM</text>
<text transform="translate(822.6 787.4) scale(1 1.04)" font-size="55.4" fill="#800000" text-anchor="start" font-weight="bold">63.1 mM</text>
<text transform="translate(758.4 889.2) scale(1 1.04)" font-size="55.4" fill="#CC99FF" text-anchor="start" font-weight="bold">100 mM</text>
<text transform="translate(710.3 988.8) scale(1 1.04)" font-size="55.4" fill="#99CCFF" text-anchor="start" font-weight="bold">159 mM</text>
<text transform="translate(2114.8 826.5) scale(1 1.04)" font-size="55.4" fill="#008000" text-anchor="start" font-weight="bold">251 mM</text>
<text transform="translate(2114.4 935.0) scale(1 1.04)" font-size="55.4" fill="#339966" text-anchor="start" font-weight="bold">398 mM</text>
<text transform="translate(2115.3 1111.6) scale(1 1.04)" font-size="55.4" fill="#00FF00" text-anchor="start" font-weight="bold">631 mM</text>
</g>
<path d="M1287.5 555.0L1710.0 555.0" stroke="#000080" stroke-width="6.6" fill="none"/>
<path d="M1730.0 555.0L1703.0 541.3L1709.6 555.0L1703.0 568.7Z" fill="#000080"/>
<path d="M1219.9 655.9L1488.0 655.9" stroke="#800080" stroke-width="6.6" fill="none"/>
<path d="M1508.0 655.9L1481.0 642.2L1487.6 655.9L1481.0 669.6Z" fill="#800080"/>
<path d="M1058.7 765.6L1327.0 765.6" stroke="#800000" stroke-width="6.6" fill="none"/>
<path d="M1347.0 765.6L1320.0 751.9L1326.6 765.6L1320.0 779.3Z" fill="#800000"/>
<path d="M995.0 874.7L1230.6 874.7" stroke="#CC99FF" stroke-width="6.6" fill="none"/>
<path d="M1250.6 874.7L1223.6 861.0L1230.2 874.7L1223.6 888.4Z" fill="#CC99FF"/>
<path d="M963.6 977.0L1230.6 977.0" stroke="#99CCFF" stroke-width="6.6" fill="none"/>
<path d="M1250.6 977.0L1223.6 963.3L1230.2 977.0L1223.6 990.7Z" fill="#99CCFF"/>
<g stroke="#000" stroke-width="7" stroke-linecap="round" stroke-linejoin="round" fill="none">
<path d="M283.0 1937.0L283.0 3350.5L2371.4 3350.5" fill="none"/>
<path d="M265.0 3350.5L283.0 3350.5"/>
<path d="M265.0 3067.8L283.0 3067.8"/>
<path d="M265.0 2785.1L283.0 2785.1"/>
<path d="M265.0 2502.4L283.0 2502.4"/>
<path d="M265.0 2219.7L283.0 2219.7"/>
<path d="M265.0 1937.0L283.0 1937.0"/>
<path d="M283.0 3350.5L283.0 3368.5"/>
<path d="M544.0 3350.5L544.0 3368.5"/>
<path d="M805.1 3350.5L805.1 3368.5"/>
<path d="M1066.2 3350.5L1066.2 3368.5"/>
<path d="M1327.2 3350.5L1327.2 3368.5"/>
<path d="M1588.2 3350.5L1588.2 3368.5"/>
<path d="M1849.3 3350.5L1849.3 3368.5"/>
<path d="M2110.4 3350.5L2110.4 3368.5"/>
<path d="M2371.4 3350.5L2371.4 3368.5"/>
</g>
<g fill="none" stroke-width="6.8" stroke-linecap="round" stroke-linejoin="round">
<path d="M283 2347l5 67 5.5 46 5 39 5.5 38.5 5 35.5 5.5 35.5 5 31.5 5.5 28.5 5 32 5 31.5 5.5 35.5 5 28 5.5 25 5 31.5 5.5 28.5 5 21 5.5 25 5 17.5 5 21.5 5.5 17.5 5 17.5 5.5 18 5 14 5.5 14 5 14 5 14.5 5.5 14 5 10.5 5.5 10.5 5 14.5 5.5 7 5 10.5 5.5 7 5 10.5 5 7 5.5 11 5 7 5.5 3.5 5 7 5.5 3.5 5 7 5.5 10.5 5 0 5 7.5 5.5 3.5 5 7 5.5 3.5 5 3.5 5.5 3.5 5 3.5 5.5 3.5 5 3.5 5 3.5 5.5 3.5 5 3.5 5.5-3.5 5 3.5 5.5 0 5 7.5 5.5 0 5 0 5 3.5 5.5 3.5 5 0 5.5 3.5 5 0 5.5 0 5 0 5 3.5 5.5 0 5 0 5.5 0 5 3.5 5.5 0 5 0 5.5 3.5 5 0 5-3.5 5.5 3.5 5 0 5.5 0 5 0 5.5 0 5 0 5.5 0 5 0 5 0 5.5 0 5 0 5.5-3.5 5 0 5.5 0 5 0 5.5 0 5 0 5 0 5.5-3.5 5 0 5.5 0 5 0 5.5-3.5 5 0 5.5-3.5 5 0 5-3.5 5.5 0 5 0 5.5-3.5 5 0 5.5-4 5-3.5 5.5 0 5 0 5-3.5 5.5 0 5-3.5 5.5-3.5 5 0 5.5-3.5 5-7 5 3.5 5.5-3.5 5-3.5 5.5 0 5-3.5 5.5-3.5 5-3.5 5.5-3.5 5-3.5 5-3.5 5.5 0 5-4 5.5-3.5 5-3.5 5.5-3.5 5-3.5 5.5 0 5-7 5 0 5.5-3.5 5-3.5 5.5-3.5 5-3.5 5.5-3.5 5 0 5.5-7 5-4 5 0 5.5-7 5-3.5 5.5 0 5-7 5.5-3.5 5-7 5.5 0 5-3.5 5-3.5 5.5-7 5-3.5 5.5-3.5 5-7.5 5.5-3.5 5-3.5 5-3.5 5.5-7 5-3.5 5.5-3.5 5-3.5 5.5-10.5 5-3.5 5.5-3.5 5-7.5 5-3.5 5.5-3.5 5-7 5.5-3.5 5-7 5.5-7 5-3.5 5.5-7 5-7.5 5-7 5.5-3.5 5-3.5 5.5-10.5 5-3.5 5.5-7 5-7 5.5-7 5-7.5 5-3.5 5.5-7 5-7 5.5-7 5-7 5.5-7 5-3.5 5.5-7.5 5-10.5 5-7 5.5-3.5 5-10.5 5.5-7 5-11 5.5-7 5-10.5 5-7 5.5-7 5-10.5 5.5-11 5-10.5 5.5-7 5-7 5.5-10.5 5-7 5-11 5.5-7 5-10.5 5.5-7 5-10.5 5.5-7 5-7 5.5-11 5-3.5 5-10.5 5.5-3.5 5-10.5 5.5-7 5-3.5 5.5-11 5-10.5 5.5-3.5 5-7 5-10.5 5.5-7 5-7.5 5.5-7 5-7 5.5-7 5-10.5 5.5-7 5-7 5-11 5.5-7 5-7 5.5-7 5-10.5 5.5-7 5-7 5-7.5 5.5-10.5 5-7 5.5-7 5-7 5.5-10.5 5-7.5 5.5-7 5-7 5-10.5 5.5-7 5-3.5 5.5-10.5 5-7.5 5.5-7 5-7 5.5-7 5-7 5-7 5.5-10.5 5-4 5.5-7 5-7 5.5-10.5 5-3.5 5.5-7 5-3.5 5-7 5.5-7.5 5-7 5.5-3.5 5-10.5 5.5-3.5 5-7 5.5-3.5 5-3.5 5-7 5.5-7.5 5-3.5 5.5-7 5-3.5 5.5-7 5-3.5 5.5-3.5 5-3.5 5-7 5.5-3.5 5-3.5 5.5-3.5 5-7.5 5.5 0 5-7 5-3.5 5.5-3.5 5-3.5 5.5-3.5 5-3.5 5.5-3.5 5-3.5 5.5-7 5 0 5 0 5.5-3.5 5-3.5 5.5-4 5 0 5.5-3.5 5-3.5 5.5 0 5-3.5 5-3.5 5.5-3.5 5 0 5.5 0 5-3.5 5.5 0 5-3.5 5.5 0 5 0 5 0 5.5-3.5 5 0 5.5 0 5 0 5.5-3.5 5 3.5 5.5-3.5 5-3.5 5 3.5 5.5 0 5 0 5.5 0 5 0 5.5 3.5 5-3.5 5 0 5.5 3.5 5 0 5.5 0 5 3.5 5.5-3.5 5 3.5 5.5 0 5 3.5 5 0 5.5 0 5 0 5.5 3.5 5 0 5.5 0 5 3.5 5.5 0 5 3.5 5 3.5 5.5 0 5 3.5 5.5 0 5 7.5 5.5 0 5 0 5.5 3.5 5 0 5 3.5 5.5 3.5 5 3.5 5.5 3.5 5 0 5.5 3.5 5 0 5.5 3.5 5 3.5 5 3.5 5.5 3.5 5 3.5 5.5 3.5 5 0 5.5 0 5 7 5 0 5.5 4 5 3.5 5.5 3.5 5 3.5 5.5 0 5 3.5 5.5 3.5 5 3.5 5 3.5 5.5 0 5 7 5.5 0" stroke="#99CCFF"/>
<path d="M283 2548.5l5 42 5.5 32 5 35.5 5.5 35 5 32 5.5 32 5 28 5.5 25 5 28 5 25 5.5 24.5 5 25 5.5 21 5 21 5.5 18 5 21 5.5 18 5 17.5 5 14 5.5 14 5 18 5.5 10.5 5 14 5.5 10.5 5 14.5 5 7 5.5 10.5 5 7 5.5 10.5 5 7 5.5 7.5 5 10.5 5.5 3.5 5 7 5 7 5.5 7 5 7 5.5 4 5 3.5 5.5 7 5 0 5.5 7 5 3.5 5 7 5.5 0 5 3.5 5.5 3.5 5 3.5 5.5 0 5 7 5.5 0 5 3.5 5 0 5.5 0 5 4 5.5 0 5 0 5.5 3.5 5 0 5.5 0 5 3.5 5-3.5 5.5 3.5 5 0 5.5 3.5 5-3.5 5.5 3.5 5 0 5 0 5.5 3.5 5 0 5.5-3.5 5 3.5 5.5 0 5 0 5.5 3.5 5 0 5 0 5.5 0 5 0 5.5 0 5 0 5.5 0 5 0 5.5 0 5 0 5 0 5.5 3.5 5 0 5.5-3.5 5 0 5.5-3.5 5 3.5 5.5 0 5 0 5 0 5.5 0 5 0 5.5 0 5-3.5 5.5 0 5 3.5 5.5-3.5 5 0 5-3.5 5.5 0 5 0 5.5 0 5-3.5 5.5 0 5 0 5.5-3.5 5 0 5 0 5.5 0 5 0 5.5-7.5 5 4 5.5-4 5 0 5 0 5.5-3.5 5-3.5 5.5 0 5 0 5.5-3.5 5 0 5.5-3.5 5-3.5 5-3.5 5.5 0 5-3.5 5.5-3.5 5 3.5 5.5-3.5 5-7 5.5 0 5-3.5 5 0 5.5 0 5-7 5.5-3.5 5 0 5.5-4 5 0 5.5-7 5-3.5 5-3.5 5.5 0 5-3.5 5.5-3.5 5-7 5.5-3.5 5 0 5.5-7 5-3.5 5 0 5.5-3.5 5-7.5 5.5-3.5 5-3.5 5.5-3.5 5-3.5 5-10.5 5.5-3.5 5-3.5 5.5-3.5 5-3.5 5.5-7 5-4 5.5-7 5-7 5-3.5 5.5-7 5-3.5 5.5-7 5-3.5 5.5-7 5-3.5 5.5-11 5-3.5 5-7 5.5-7 5-7 5.5-7 5-7 5.5-7.5 5-7 5.5-3.5 5-7 5-7 5.5-7 5-3.5 5.5-10.5 5-3.5 5.5-7.5 5-7 5.5-7 5-7 5-3.5 5.5-10.5 5-3.5 5.5-7.5 5-7 5.5-7 5-7 5-7 5.5-10.5 5-7 5.5-3.5 5-7.5 5.5-7 5-7 5.5-10.5 5-7 5-3.5 5.5-7 5-7.5 5.5-10.5 5-3.5 5.5-7 5-10.5 5.5-7 5-7 5-7.5 5.5-7 5-7 5.5-7 5-10.5 5.5-3.5 5-10.5 5.5-7.5 5-7 5-10.5 5.5-7 5-3.5 5.5-10.5 5-10.5 5.5-4 5-7 5.5-10.5 5-10.5 5-7 5.5-7 5-7.5 5.5-7 5-7 5.5-7 5-10.5 5-7 5.5-10.5 5-11 5.5-3.5 5-7 5.5-10.5 5-7 5.5-7 5-7 5-11 5.5-7 5-7 5.5-7 5-7 5.5-3.5 5-10.5 5.5-11 5-3.5 5-7 5.5-7 5-7 5.5-7 5-7 5.5-3.5 5-11 5.5-7 5-3.5 5-7 5.5-7 5-3.5 5.5-7 5-3.5 5.5-7.5 5-3.5 5.5-7 5-7 5-3.5 5.5-3.5 5-3.5 5.5-10.5 5 0 5.5-7 5-7.5 5.5-3.5 5-3.5 5-3.5 5.5-3.5 5-3.5 5.5-3.5 5-7 5.5-3.5 5-7 5 0 5.5-3.5 5-3.5 5.5-4 5 0 5.5-3.5 5-3.5 5.5-7 5 0 5-3.5 5.5-3.5 5 0 5.5-7 5 0 5.5-3.5 5 0 5.5-3.5 5 0 5-3.5 5.5-3.5 5 0 5.5 0 5 0 5.5-3.5 5 0 5.5-3.5 5 0 5 0 5.5 0 5-4 5.5 0 5 4 5.5-4 5 0 5.5 0 5 0 5 0 5.5 0 5 4 5.5-4 5 4 5.5 0 5 0 5 0 5.5 3.5 5-3.5 5.5 3.5 5 0 5.5 0 5 3.5 5.5-3.5 5 3.5 5 3.5 5.5 0 5 3.5 5.5 0 5 3.5 5.5 0 5 3.5 5.5 0 5 0 5 3.5 5.5 0 5 3.5 5.5 3.5 5 3.5 5.5 0 5 0 5.5 3.5 5 3.5 5 0 5.5 3.5 5 3.5 5.5 4 5 3.5 5.5 0 5 3.5 5.5 3.5 5 3.5 5 0 5.5 3.5 5 3.5 5.5 0 5 3.5 5.5 3.5 5 0 5 7 5.5 3.5 5 0 5.5 3.5 5 3.5 5.5 3.5 5 4 5.5 3.5 5 3.5 5 3.5 5.5 0 5 3.5 5.5 3.5" stroke="#333399"/>
<path d="M283 2601.5l5 38.5 5.5 39 5 28.5 5.5 28 5 28.5 5.5 28 5 25 5.5 24.5 5 25 5 24.5 5.5 25 5 21 5.5 21.5 5 17.5 5.5 21 5 14.5 5.5 17.5 5 14 5 14 5.5 14.5 5 10.5 5.5 10.5 5 10.5 5.5 7 5 11 5 10.5 5.5 7 5 7 5.5 7 5 7 5.5 7 5 7.5 5.5 7 5 7 5 3.5 5.5 7 5 0 5.5 7 5 3.5 5.5 3.5 5 3.5 5.5 4 5 3.5 5 7 5.5 0 5 3.5 5.5 3.5 5 3.5 5.5 0 5 3.5 5.5 3.5 5 3.5 5 0 5.5 7 5 0 5.5 0 5 3.5 5.5 3.5 5-3.5 5.5 3.5 5 3.5 5 4 5.5 0 5 3.5 5.5 0 5 0 5.5 3.5 5 0 5-3.5 5.5 3.5 5 3.5 5.5 0 5 0 5.5 3.5 5 0 5.5 0 5 0 5 3.5 5.5 0 5 0 5.5 0 5 0 5.5 0 5 0 5.5 0 5 0 5 0 5.5 0 5 3.5 5.5-3.5 5 3.5 5.5-3.5 5 0 5.5 0 5-3.5 5 3.5 5.5 0 5-3.5 5.5 0 5 0 5.5-3.5 5 0 5.5 3.5 5-3.5 5 0 5.5 0 5 0 5.5-3.5 5 0 5.5 0 5 0 5.5 0 5-7 5 3.5 5.5 0 5-3.5 5.5 0 5-7.5 5.5 0 5 3.5 5-7 5.5 0 5 0 5.5 0 5-3.5 5.5 0 5-3.5 5.5 0 5-7 5 0 5.5-3.5 5 0 5.5 0 5-3.5 5.5 0 5-7 5.5 0 5-3.5 5 0 5.5-3.5 5-3.5 5.5-3.5 5 0 5.5 0 5-4 5.5-3.5 5-3.5 5 0 5.5-7 5-3.5 5.5-3.5 5 0 5.5-3.5 5-3.5 5.5 0 5-7 5-3.5 5.5 0 5-3.5 5.5-3.5 5-4 5.5-3.5 5-7 5-3.5 5.5 0 5-3.5 5.5-7 5 0 5.5-7 5-3.5 5.5-3.5 5-3.5 5-7 5.5-4 5-3.5 5.5-3.5 5-7 5.5-3.5 5-3.5 5.5-3.5 5-7 5-3.5 5.5-7 5-3.5 5.5-3.5 5-7.5 5.5-3.5 5-7 5.5-3.5 5-7 5-7 5.5-3.5 5-7 5.5-3.5 5-7.5 5.5-7 5-3.5 5.5-7 5-7 5-3.5 5.5-10.5 5-3.5 5.5-7 5-4 5.5-7 5-7 5-7 5.5-7 5-7 5.5-7 5-3.5 5.5-11 5-7 5.5-7 5-3.5 5-7 5.5-10.5 5-7 5.5-7.5 5-7 5.5-3.5 5-7 5.5-10.5 5-3.5 5-10.5 5.5-7.5 5-7 5.5-3.5 5-10.5 5.5-7 5-7 5.5-7 5-7 5-7.5 5.5-7 5-7 5.5-10.5 5-7 5.5-7 5-7 5.5-7.5 5-7 5-7 5.5-10.5 5-7 5.5-3.5 5-10.5 5.5-4 5-10.5 5-7 5.5-3.5 5-7 5.5-10.5 5-7 5.5-7.5 5-7 5.5-7 5-7 5-7 5.5-7 5-7 5.5-11 5-3.5 5.5-7 5-7 5.5-10.5 5-3.5 5-7 5.5-7 5-7.5 5.5-7 5-3.5 5.5-7 5-7 5.5-7 5-3.5 5-7 5.5-7.5 5-3.5 5.5-7 5-3.5 5.5-7 5-3.5 5.5-7 5-7 5 0 5.5-7 5 0 5.5-7.5 5-7 5.5-3.5 5-3.5 5.5-7 5 0 5-3.5 5.5-7 5 0 5.5-3.5 5-3.5 5.5-3.5 5-3.5 5-4 5.5-3.5 5-3.5 5.5-3.5 5-3.5 5.5 0 5-3.5 5.5 0 5-3.5 5-3.5 5.5-3.5 5-3.5 5.5 0 5-3.5 5.5 0 5-3.5 5.5 0 5-3.5 5 0 5.5 0 5 0 5.5-3.5 5 3.5 5.5-3.5 5-3.5 5.5 0 5 0 5 0 5.5-4 5 4 5.5-4 5 4 5.5 0 5-4 5.5 0 5 4 5 0 5.5-4 5 4 5.5 0 5 0 5.5 0 5 3.5 5 0 5.5 3.5 5-3.5 5.5 3.5 5 0 5.5 0 5 3.5 5.5 0 5 3.5 5 0 5.5 0 5 3.5 5.5 3.5 5 0 5.5 3.5 5 3.5 5.5 3.5 5 0 5 3.5 5.5-3.5 5 3.5 5.5 3.5 5 3.5 5.5 3.5 5 0 5.5 3.5 5 4 5 3.5 5.5 3.5 5 3.5 5.5 0 5 3.5 5.5 3.5 5 0 5.5 7 5 0 5 3.5 5.5 3.5 5 0 5.5 3.5 5 7 5.5 3.5 5 0 5 4 5.5 3.5 5 3.5 5.5 0 5 3.5 5.5 3.5 5 3.5 5.5 7 5 3.5 5 0 5.5 3.5 5 7 5.5-3.5" stroke="#800080"/>
<path d="M283 2912.5l5 24.5 5.5 21.5 5 17.5 5.5 17.5 5 18 5.5 14 5 17.5 5.5 21.5 5 17.5 5 17.5 5.5 18 5 10.5 5.5 14 5 14 5.5 7 5 14.5 5.5 7 5 7 5 7 5.5 7 5 7 5.5 3.5 5 4 5.5 7 5 3.5 5 3.5 5.5 3.5 5 3.5 5.5 3.5 5 3.5 5.5 3.5 5 3.5 5.5 0 5 7 5 3.5 5.5 0 5 3.5 5.5 0 5 0 5.5 7.5 5 0 5.5 3.5 5 0 5 3.5 5.5 0 5 0 5.5 3.5 5 0 5.5 3.5 5 0 5.5 0 5 3.5 5 0 5.5 0 5 0 5.5 0 5 0 5.5 3.5 5 0 5.5 0 5 0 5 3.5 5.5-3.5 5 0 5.5 0 5 3.5 5.5 0 5 0 5 0 5.5 0 5 0 5.5 0 5 0 5.5 0 5-3.5 5.5 3.5 5 0 5-3.5 5.5 0 5 3.5 5.5 0 5-3.5 5.5 0 5 3.5 5.5-3.5 5 0 5-3.5 5.5 0 5 0 5.5 0 5-3.5 5.5 3.5 5-3.5 5.5 0 5 0 5 0 5.5 0 5-3.5 5.5 0 5 0 5.5 0 5-3.5 5.5 0 5 0 5-3.5 5.5 0 5 0 5.5 0 5-3.5 5.5 0 5 0 5.5-3.5 5 0 5 0 5.5-4 5 0 5.5-3.5 5 0 5.5-3.5 5 0 5 0 5.5-3.5 5-3.5 5.5 3.5 5-7 5.5 3.5 5-3.5 5.5-3.5 5 0 5-3.5 5.5 0 5 0 5.5-3.5 5-3.5 5.5 3.5 5-7 5.5-3.5 5 3.5 5-7 5.5-3.5 5 0 5.5 0 5-3.5 5.5-4 5-3.5 5.5 0 5-3.5 5-3.5 5.5-3.5 5 0 5.5-3.5 5 0 5.5-7 5 0 5.5-3.5 5-3.5 5-3.5 5.5-3.5 5-3.5 5.5-3.5 5-4 5.5-3.5 5 0 5-3.5 5.5-3.5 5-3.5 5.5-3.5 5-3.5 5.5-3.5 5-3.5 5.5-3.5 5-3.5 5-7 5.5-3.5 5-3.5 5.5-4 5-3.5 5.5-3.5 5-7 5.5-3.5 5 0 5-7 5.5-3.5 5-3.5 5.5-7 5-3.5 5.5-3.5 5-7.5 5.5-3.5 5-7 5-3.5 5.5-7 5 0 5.5-7 5-7 5.5-3.5 5-3.5 5.5-7 5-7.5 5-7 5.5-3.5 5-3.5 5.5-7 5-7 5.5-3.5 5-7 5-3.5 5.5-7.5 5-7 5.5-7 5-3.5 5.5-7 5-7 5.5-3.5 5-7 5-7.5 5.5-7 5-7 5.5-3.5 5-7 5.5-7 5-3.5 5.5-10.5 5-7.5 5-3.5 5.5-10.5 5-7 5.5-3.5 5-7 5.5-7 5-7 5.5-7.5 5-7 5-7 5.5-7 5-7 5.5-3.5 5-10.5 5.5-7 5-7.5 5.5-7 5-7 5-7 5.5-7 5-7 5.5-7 5-7.5 5.5-7 5-10.5 5-3.5 5.5-7 5-10.5 5.5-7 5-7.5 5.5-3.5 5-10.5 5.5-7 5-7 5-7 5.5-7 5-7.5 5.5-7 5-7 5.5-7 5-7 5.5-7 5-7 5-3.5 5.5-11 5-3.5 5.5-3.5 5-7 5.5-10.5 5-3.5 5.5-7 5-3.5 5-3.5 5.5-11 5-3.5 5.5-7 5-3.5 5.5-7 5-3.5 5.5-3.5 5-3.5 5-7 5.5-3.5 5-7.5 5.5-3.5 5-3.5 5.5-3.5 5-3.5 5.5-7 5-3.5 5-3.5 5.5-7 5 0 5.5-7 5 0 5.5-7 5 0 5-7.5 5.5 0 5-3.5 5.5-3.5 5-3.5 5.5 0 5-3.5 5.5-3.5 5-3.5 5 0 5.5-3.5 5-3.5 5.5 0 5 0 5.5-3.5 5 0 5.5-3.5 5-3.5 5 0 5.5 0 5-3.5 5.5 0 5 0 5.5 0 5-7.5 5.5 3.5 5 0 5 4 5.5-7.5 5 3.5 5.5 0 5-3.5 5.5 0 5 3.5 5.5 0 5-3.5 5 3.5 5.5 0 5 0 5.5 0 5 4 5.5 0 5 0 5 0 5.5 0 5 3.5 5.5 0 5 0 5.5 3.5 5 3.5 5.5 0 5 0 5 0 5.5 3.5 5 0 5.5 3.5 5 0 5.5 7 5 0 5.5 0 5 3.5 5 3.5 5.5 0 5 3.5 5.5 0 5 3.5 5.5 3.5 5 3.5 5.5 0 5 4 5 3.5 5.5 0 5 3.5 5.5 3.5 5 3.5 5.5 0 5 7 5.5 0 5 3.5 5 3.5 5.5 3.5 5 0 5.5 7 5 0 5.5 3.5 5 3.5 5 3.5 5.5 4 5 0 5.5 7 5 3.5 5.5 3.5 5 0 5.5 0 5 3.5 5 3.5 5.5 3.5 5 3.5 5.5 3.5" stroke="#339966"/>
<path d="M283 3113.5l5 18 5.5 14 5 7 5.5 14 5 7.5 5.5 7 5 7 5.5 7 5 3.5 5 10.5 5.5 7 5 4 5.5 3.5 5 3.5 5.5 3.5 5 7 5.5 0 5 3.5 5 3.5 5.5 7 5 0 5.5 3.5 5 0 5.5 7 5 0 5 3.5 5.5 0 5 3.5 5.5 0 5 4 5.5 0 5 0 5.5 3.5 5 3.5 5 0 5.5 3.5 5-3.5 5.5 3.5 5 0 5.5 3.5 5-3.5 5.5 0 5 3.5 5 0 5.5 0 5 0 5.5 3.5 5 0 5.5 0 5 0 5.5 0 5 3.5 5 0 5.5 0 5-3.5 5.5 3.5 5 0 5.5 3.5 5-3.5 5.5 0 5 3.5 5-3.5 5.5 0 5 3.5 5.5 0 5 0 5.5 0 5-3.5 5 0 5.5 3.5 5-3.5 5.5 0 5 0 5.5 0 5 0 5.5 0 5 0 5 0 5.5 0 5 0 5.5 0 5-3.5 5.5 3.5 5-3.5 5.5 0 5 0 5 0 5.5 0 5-3.5 5.5 0 5 0 5.5 0 5 0 5.5-3.5 5 0 5 0 5.5 0 5-3.5 5.5 0 5 0 5.5-3.5 5 0 5.5 0 5-3.5 5 0 5.5 0 5 0 5.5-7.5 5 3.5 5.5 0 5-3.5 5.5-3.5 5 0 5 0 5.5-3.5 5 0 5.5 0 5-3.5 5.5 0 5-3.5 5-3.5 5.5 0 5-3.5 5.5 0 5-3.5 5.5 0 5-3.5 5.5-3.5 5 0 5 0 5.5-3.5 5 0 5.5-3.5 5-3.5 5.5 0 5-3.5 5.5-7.5 5 3.5 5-7 5.5 0 5-3.5 5.5 0 5-3.5 5.5-3.5 5-3.5 5.5 0 5-7 5 0 5.5-3.5 5-3.5 5.5 0 5-3.5 5.5-3.5 5-3.5 5.5-4 5-3.5 5-3.5 5.5-7 5 0 5.5-3.5 5-3.5 5.5-3.5 5-3.5 5-3.5 5.5-3.5 5 0 5.5-7 5-7 5.5 0 5-7.5 5.5-3.5 5-3.5 5-3.5 5.5-3.5 5-7 5.5-3.5 5-3.5 5.5-7 5-3.5 5.5-3.5 5-7.5 5-3.5 5.5-3.5 5-3.5 5.5-7 5-3.5 5.5-3.5 5-7 5.5-7 5-3.5 5-3.5 5.5-11 5-3.5 5.5-3.5 5-7 5.5-7 5-3.5 5.5-3.5 5-7 5-7 5.5-7.5 5-3.5 5.5-7 5-3.5 5.5-7 5-3.5 5-7 5.5-7 5-7 5.5-4 5-7 5.5-10.5 5-3.5 5.5-7 5-7 5-7 5.5-3.5 5-7.5 5.5-7 5-7 5.5-7 5-3.5 5.5-7 5-7 5-3.5 5.5-7 5-11 5.5-3.5 5-7 5.5-7 5-7 5.5-7 5-3.5 5-11 5.5-3.5 5-7 5.5-7 5-3.5 5.5-7 5-7 5.5-3.5 5-7 5-3.5 5.5-11 5-3.5 5.5-7 5-7 5.5-7 5-3.5 5-7 5.5-3.5 5-7.5 5.5-3.5 5-7 5.5-7 5-7 5.5-3.5 5 0 5-10.5 5.5-3.5 5-3.5 5.5-11 5-3.5 5.5-3.5 5-3.5 5.5-7 5-3.5 5-3.5 5.5-7 5-3.5 5.5-3.5 5-7.5 5.5-3.5 5-3.5 5.5-3.5 5-3.5 5-3.5 5.5-7 5-3.5 5.5-3.5 5-3.5 5.5-3.5 5-3.5 5.5-3.5 5-3.5 5 0 5.5-7.5 5-3.5 5.5 0 5-3.5 5.5-3.5 5 0 5.5-3.5 5-3.5 5-3.5 5.5 0 5-3.5 5.5-3.5 5 0 5.5-3.5 5 0 5 0 5.5-3.5 5 0 5.5 0 5 0 5.5-3.5 5 0 5.5 0 5-3.5 5 0 5.5 3.5 5 0 5.5-3.5 5 3.5 5.5-3.5 5 0 5.5 3.5 5-3.5 5 3.5 5.5-3.5 5 0 5.5 3.5 5 0 5.5 0 5 0 5.5 3.5 5 0 5 3.5 5.5 0 5 0 5.5 3.5 5 0 5.5 3.5 5 0 5.5 0 5 0 5 3.5 5.5 3.5 5 3.5 5.5 0 5 3.5 5.5 0 5 3.5 5 3.5 5.5 0 5 3.5 5.5 3.5 5 4 5.5 0 5 0 5.5 3.5 5 3.5 5 3.5 5.5 3.5 5 3.5 5.5 3.5 5 3.5 5.5 3.5 5 0 5.5 7 5 0 5 3.5 5.5 3.5 5 0 5.5 7 5 4 5.5 0 5 7 5.5 3.5 5 3.5 5 3.5 5.5 3.5 5 3.5 5.5 3.5 5 0 5.5 7 5 3.5 5.5 3.5 5 7 5 0 5.5 0 5 7.5 5.5 3.5 5 3.5 5.5 3.5 5 3.5 5 0 5.5 7 5 3.5 5.5 0 5 7 5.5 3.5 5 0 5.5 3.5 5 3.5 5 7.5 5.5 3.5 5 0 5.5 3.5" stroke="#FF00FF"/>
<path d="M283 3082l5 21 5.5 14.5 5 14 5.5 10.5 5 10.5 5.5 10.5 5 11 5.5 3.5 5 10.5 5 7 5.5 3.5 5 10.5 5.5 3.5 5 7.5 5.5 7 5 0 5.5 7 5 3.5 5 3.5 5.5 3.5 5 3.5 5.5 7 5 0 5.5 3.5 5 0 5 3.5 5.5 3.5 5 3.5 5.5 0 5 4 5.5 0 5 3.5 5.5 0 5 0 5 3.5 5.5 0 5 3.5 5.5 0 5 0 5.5 0 5 3.5 5.5 0 5-3.5 5 0 5.5 3.5 5 0 5.5 0 5 0 5.5 3.5 5 0 5.5-3.5 5 3.5 5 0 5.5-3.5 5 0 5.5 3.5 5 0 5.5 0 5 0 5.5 3.5 5 0 5 0 5.5-3.5 5 3.5 5.5-3.5 5 0 5.5 0 5 0 5-3.5 5.5 3.5 5 0 5.5 0 5 0 5.5 0 5 0 5.5 0 5 0 5 0 5.5 0 5 0 5.5-3.5 5 0 5.5 3.5 5-3.5 5.5-3.5 5 3.5 5-3.5 5.5 0 5 0 5.5 0 5 0 5.5-3.5 5 0 5.5 0 5 0 5 0 5.5-7 5 3.5 5.5-3.5 5 0 5.5 0 5-4 5.5 0 5-3.5 5 0 5.5-3.5 5 0 5.5-3.5 5 0 5.5-3.5 5 0 5.5 0 5-3.5 5-3.5 5.5 0 5-3.5 5.5-3.5 5 3.5 5.5-3.5 5-7 5 3.5 5.5-3.5 5 0 5.5-10.5 5 3.5 5.5-3.5 5-3.5 5.5-4 5-3.5 5 0 5.5-3.5 5-3.5 5.5 0 5-7 5.5-3.5 5-3.5 5.5-3.5 5-3.5 5 0 5.5-7 5 0 5.5-3.5 5-3.5 5.5-4 5-7 5.5-3.5 5-3.5 5-3.5 5.5-3.5 5-3.5 5.5-3.5 5-7 5.5-3.5 5-3.5 5.5-7 5 0 5-7.5 5.5-3.5 5-7 5.5-3.5 5-3.5 5.5-7 5 0 5-7 5.5-3.5 5-7 5.5-3.5 5-4 5.5-10.5 5 0 5.5-7 5-7 5-3.5 5.5-7 5-7 5.5-3.5 5-7.5 5.5-3.5 5-7 5.5-3.5 5-7 5-7 5.5-3.5 5-7 5.5-7 5-3.5 5.5-7.5 5-3.5 5.5-10.5 5-3.5 5-7 5.5-7 5-7 5.5-3.5 5-7.5 5.5-7 5-3.5 5.5-7 5-10.5 5-3.5 5.5-10.5 5-3.5 5.5-7.5 5-7 5.5-7 5-3.5 5-10.5 5.5-3.5 5-7 5.5-7 5-4 5.5-10.5 5-3.5 5.5-7 5-7 5-7 5.5-3.5 5-10.5 5.5-7.5 5-3.5 5.5-7 5-7 5.5-7 5-7 5-7 5.5-7 5-4 5.5-10.5 5-3.5 5.5-7 5-7 5.5-3.5 5-7 5-10.5 5.5-4 5-7 5.5-7 5-3.5 5.5-7 5-7 5.5-7 5-7 5-7.5 5.5-7 5 0 5.5-7 5-7 5.5-10.5 5-7 5 0 5.5-7 5-11 5.5-3.5 5-7 5.5-7 5-3.5 5.5-7 5-3.5 5-7 5.5-7.5 5-3.5 5.5-7 5-7 5.5-3.5 5-3.5 5.5-3.5 5-7 5-3.5 5.5-7 5-3.5 5.5-4 5-3.5 5.5-7 5-3.5 5.5 0 5-7 5-3.5 5.5-3.5 5-3.5 5.5 0 5-7 5.5-3.5 5-3.5 5.5 0 5-3.5 5-4 5.5-3.5 5 0 5.5 0 5-7 5.5-3.5 5 0 5.5-3.5 5 0 5 0 5.5 0 5-3.5 5.5 0 5-3.5 5.5 0 5 0 5 0 5.5-3.5 5 0 5.5 0 5-3.5 5.5 0 5 3.5 5.5-3.5 5 0 5 0 5.5 0 5 0 5.5 0 5 3.5 5.5-3.5 5 3.5 5.5 0 5 0 5 3.5 5.5 0 5 0 5.5 3.5 5-3.5 5.5 3.5 5 3.5 5.5-3.5 5 3.5 5 3.5 5.5 3.5 5 0 5.5 0 5 0 5.5 7 5 0 5.5 0 5 3.5 5 4 5.5 3.5 5 0 5.5 3.5 5 7 5.5 0 5 3.5 5 0 5.5 0 5 7 5.5 7 5 0 5.5 0 5 3.5 5.5 3.5 5 7 5 0 5.5 3.5 5 4 5.5 3.5 5 3.5 5.5 3.5 5 3.5 5.5 0 5 10.5 5 0 5.5 0 5 3.5 5.5 7 5 3.5 5.5 3.5 5 3.5 5.5 0 5 7.5 5 3.5 5.5 3.5 5 3.5 5.5 3.5 5 3.5 5.5 3.5 5 3.5 5.5 3.5 5 3.5 5 3.5 5.5 3.5 5 3.5 5.5 3.5 5 3.5 5.5 7.5 5 0 5 7 5.5 3.5 5 3.5 5.5 3.5 5 7 5.5 0 5 3.5 5.5 0 5 7 5 3.5 5.5 3.5 5 3.5 5.5 4" stroke="#FF0000"/>
<path d="M283 2944l5 21.5 5.5 24.5 5 17.5 5.5 18 5 14 5.5 17.5 5 11 5.5 14 5 14 5 10.5 5.5 7 5 14.5 5.5 7 5 10.5 5.5 7 5 7 5.5 7 5 7.5 5 7 5.5 3.5 5 3.5 5.5 7 5 3.5 5.5 7 5 3.5 5 3.5 5.5 7.5 5 3.5 5.5 3.5 5 3.5 5.5 0 5 10.5 5.5 0 5 3.5 5 3.5 5.5 0 5 3.5 5.5 0 5 3.5 5.5 3.5 5 3.5 5.5 0 5 3.5 5 0 5.5 3.5 5 0 5.5 4 5 0 5.5 0 5 3.5 5.5 0 5 0 5 3.5 5.5 0 5 3.5 5.5-3.5 5 3.5 5.5 0 5 3.5 5.5 0 5 3.5 5-3.5 5.5 0 5 3.5 5.5 0 5 0 5.5 0 5 3.5 5 0 5.5 0 5 0 5.5 3.5 5-3.5 5.5 3.5 5-3.5 5.5 3.5 5-3.5 5 3.5 5.5 0 5 0 5.5 0 5-3.5 5.5 3.5 5 0 5.5 0 5 0 5 0 5.5 0 5 0 5.5 3.5 5-3.5 5.5 0 5 0 5.5 0 5 0 5 0 5.5 0 5 0 5.5-3.5 5 3.5 5.5 0 5-3.5 5.5 0 5 0 5-3.5 5.5 3.5 5-3.5 5.5 3.5 5-3.5 5.5 0 5 0 5.5-3.5 5 3.5 5 0 5.5-3.5 5-3.5 5.5 3.5 5-3.5 5.5 0 5-3.5 5 3.5 5.5-3.5 5 0 5.5 0 5-3.5 5.5 0 5 0 5.5-3.5 5 3.5 5-3.5 5.5-4 5 0 5.5-3.5 5 3.5 5.5-3.5 5-3.5 5.5 0 5 0 5-3.5 5.5 0 5 0 5.5-3.5 5 0 5.5 0 5-7 5.5 0 5 0 5 0 5.5-3.5 5 0 5.5-3.5 5-3.5 5.5 0 5 0 5.5-3.5 5-7 5 0 5.5-3.5 5 0 5.5 0 5-3.5 5.5-4 5-3.5 5-3.5 5.5-3.5 5-3.5 5.5 0 5-3.5 5.5-3.5 5-3.5 5.5-3.5 5 0 5-3.5 5.5-3.5 5-3.5 5.5 0 5-7 5.5-4 5-3.5 5.5-3.5 5-3.5 5 0 5.5-3.5 5-7 5.5-3.5 5-3.5 5.5-3.5 5-3.5 5.5-7 5-3.5 5-3.5 5.5-4 5-3.5 5.5-3.5 5-7 5.5 0 5-7 5.5-3.5 5-7 5-3.5 5.5-3.5 5-7 5.5-3.5 5-4 5.5-7 5-3.5 5-7 5.5-7 5-3.5 5.5-7 5-3.5 5.5-7 5-3.5 5.5-7.5 5-3.5 5-7 5.5-7 5-3.5 5.5-7 5-7 5.5-7 5-3.5 5.5-7.5 5-3.5 5-7 5.5-7 5-7 5.5-7 5-7 5.5-3.5 5-11 5.5-3.5 5-7 5-3.5 5.5-7 5-10.5 5.5-3.5 5-11 5.5-3.5 5-10.5 5.5-7 5-3.5 5-7 5.5-3.5 5-14 5.5-4 5-7 5.5-7 5-7 5-7 5.5-7 5-7 5.5-7 5-7.5 5.5-3.5 5-10.5 5.5-3.5 5-10.5 5-3.5 5.5-7 5-7 5.5-11 5 0 5.5-10.5 5-3.5 5.5-7 5 0 5-10.5 5.5-3.5 5-7 5.5-7.5 5-3.5 5.5-7 5-3.5 5.5-3.5 5-7 5-3.5 5.5-3.5 5-7 5.5-3.5 5-4 5.5-7 5-3.5 5.5-3.5 5-3.5 5-3.5 5.5-3.5 5-3.5 5.5-3.5 5-3.5 5.5-3.5 5-3.5 5.5-7 5 0 5-7.5 5.5 0 5-3.5 5.5-3.5 5 0 5.5-3.5 5-3.5 5-3.5 5.5-3.5 5 0 5.5-3.5 5-3.5 5.5 0 5-3.5 5.5 0 5-3.5 5 0 5.5-3.5 5-3.5 5.5 3.5 5-3.5 5.5 0 5 0 5.5-3.5 5 0 5 3.5 5.5-7.5 5 4 5.5 0 5-4 5.5 4 5 0 5.5 0 5 0 5-4 5.5 4 5 0 5.5 0 5 0 5.5 0 5 0 5.5 3.5 5 0 5 0 5.5 3.5 5 0 5.5 3.5 5-3.5 5.5 3.5 5 3.5 5 3.5 5.5 0 5 0 5.5 0 5 3.5 5.5 3.5 5 0 5.5 3.5 5 3.5 5 0 5.5 0 5 3.5 5.5 3.5 5 3.5 5.5 3.5 5 0 5.5 3.5 5 4 5 3.5 5.5 0 5 0 5.5 7 5 0 5.5 7 5 0 5.5 3.5 5 3.5 5 3.5 5.5 7 5 0 5.5 3.5 5 3.5 5.5 3.5 5 3.5 5.5 4 5 3.5 5 3.5 5.5 3.5 5 0 5.5 7 5 3.5 5.5 3.5 5 3.5 5 3.5 5.5 3.5 5 3.5 5.5 3.5 5 3.5 5.5 4 5 0 5.5 3.5 5 3.5 5 3.5 5.5 3.5 5 3.5 5.5 0" stroke="#FF6600"/>
<path d="M283 3060.5l5 11 5.5 14 5 10.5 5.5 14 5 11 5.5 10.5 5 10.5 5.5 10.5 5 7 5 11 5.5 3.5 5 7 5.5 3.5 5 7 5.5 7 5 3.5 5.5 3.5 5 7 5 3.5 5.5 4 5 3.5 5.5 3.5 5 0 5.5 3.5 5 3.5 5 3.5 5.5 0 5 3.5 5.5 3.5 5 0 5.5 0 5 3.5 5.5 3.5 5 0 5 0 5.5 7 5 0 5.5 0 5 3.5 5.5 0 5 0 5.5 3.5 5 0 5 0 5.5 0 5 3.5 5.5 0 5 0 5.5 4 5 3.5 5.5-3.5 5 3.5 5-3.5 5.5 3.5 5 0 5.5 3.5 5 0 5.5 0 5 3.5 5.5-3.5 5 3.5 5-3.5 5.5 3.5 5 0 5.5 3.5 5-3.5 5.5 0 5 0 5 3.5 5.5-3.5 5 0 5.5 3.5 5-3.5 5.5 0 5 3.5 5.5 0 5 0 5 0 5.5 0 5 0 5.5 0 5 0 5.5 3.5 5 0 5.5 0 5 0 5-3.5 5.5 0 5 0 5.5 3.5 5-3.5 5.5 0 5 3.5 5.5-3.5 5 0 5 0 5.5 0 5 0 5.5-3.5 5 3.5 5.5-3.5 5 0 5.5 0 5 0 5 0 5.5 0 5-3.5 5.5 3.5 5-3.5 5.5 0 5 0 5.5-3.5 5 0 5 0 5.5 0 5 0 5.5 0 5-3.5 5.5 0 5-4 5 0 5.5 4 5-4 5.5 0 5-3.5 5.5 0 5-3.5 5.5 0 5 0 5-3.5 5.5 0 5-3.5 5.5 0 5 0 5.5 0 5-3.5 5.5-3.5 5 0 5-3.5 5.5 0 5 0 5.5-3.5 5 0 5.5-3.5 5-3.5 5.5 0 5 0 5-3.5 5.5 0 5-3.5 5.5-3.5 5 0 5.5-3.5 5 0 5.5-7.5 5 0 5-3.5 5.5 0 5-3.5 5.5 0 5-7 5.5-3.5 5 0 5-3.5 5.5-3.5 5 0 5.5-3.5 5-3.5 5.5-3.5 5 0 5.5-7 5-4 5 0 5.5-3.5 5-3.5 5.5-3.5 5-3.5 5.5-3.5 5-3.5 5.5-3.5 5-3.5 5-3.5 5.5-3.5 5-3.5 5.5-3.5 5-3.5 5.5-3.5 5-4 5.5-3.5 5-3.5 5-7 5.5-3.5 5-3.5 5.5-3.5 5-3.5 5.5-3.5 5-7 5.5 0 5-3.5 5-7 5.5-4 5-7 5.5 0 5-10.5 5.5-3.5 5-3.5 5-3.5 5.5-7 5-3.5 5.5-7 5-7.5 5.5-3.5 5-7 5.5 0 5-7 5-7 5.5-3.5 5-7 5.5-3.5 5-7 5.5-7.5 5-7 5.5-7 5-3.5 5-7 5.5-3.5 5-7 5.5-10.5 5-4 5.5-3.5 5-10.5 5.5-3.5 5-7 5-7 5.5-7 5-7 5.5-7.5 5-3.5 5.5-7 5-7 5.5-10.5 5-3.5 5-7 5.5-7 5-7.5 5.5-7 5-7 5.5-7 5-7 5-3.5 5.5-10.5 5-3.5 5.5-7.5 5-7 5.5-7 5-7 5.5-3.5 5-3.5 5-10.5 5.5-3.5 5-7 5.5-7.5 5-3.5 5.5-7 5-7 5.5-3.5 5-3.5 5-10.5 5.5-3.5 5-3.5 5.5-7.5 5-3.5 5.5-3.5 5-7 5.5-3.5 5-3.5 5-7 5.5-3.5 5 0 5.5-7 5 0 5.5-7 5-4 5.5-7 5-3.5 5-3.5 5.5 0 5-7 5.5 0 5-3.5 5.5-3.5 5-3.5 5.5 0 5-3.5 5-3.5 5.5-3.5 5 0 5.5-3.5 5-3.5 5.5-4 5 0 5-3.5 5.5-3.5 5 0 5.5 0 5 0 5.5-7 5 0 5.5 0 5-3.5 5-3.5 5.5 0 5 0 5.5-3.5 5 0 5.5 0 5 0 5.5 0 5 0 5 0 5.5-3.5 5 3.5 5.5-3.5 5 3.5 5.5-3.5 5 3.5 5.5 0 5-3.5 5 3.5 5.5 0 5 0 5.5 0 5 3.5 5.5 0 5 0 5.5 3.5 5 0 5 3.5 5.5 0 5 0 5.5 3.5 5 3.5 5.5-3.5 5 3.5 5 3.5 5.5 3.5 5 0 5.5 4 5 0 5.5 3.5 5 3.5 5.5 0 5 3.5 5 3.5 5.5 3.5 5 0 5.5 3.5 5 3.5 5.5 0 5 3.5 5.5 3.5 5 3.5 5 0 5.5 3.5 5 7 5.5 3.5 5 0 5.5 4 5 3.5 5.5 0 5 7 5 3.5 5.5 0 5 3.5 5.5 3.5 5 7 5.5 0 5 3.5 5.5 3.5 5 3.5 5 0 5.5 3.5 5 3.5 5.5 4 5 7 5.5 0 5 3.5 5 3.5 5.5 7 5 3.5 5.5 0 5 3.5 5.5 3.5 5 3.5 5.5 3.5 5 0 5 7 5.5 0 5 3.5 5.5 7.5" stroke="#FFCC99"/>
<path d="M283 2937l5 25 5.5 21 5 21 5.5 18 5 17.5 5.5 17.5 5 18 5.5 14 5 14 5 10.5 5.5 11 5 7 5.5 10.5 5 14 5.5 3.5 5 11 5.5 7 5 3.5 5 10.5 5.5 3.5 5 3.5 5.5 10.5 5 0 5.5 7 5 7.5 5 3.5 5.5 3.5 5 3.5 5.5 3.5 5 3.5 5.5 3.5 5 3.5 5.5 0 5 3.5 5 3.5 5.5 3.5 5 3.5 5.5 0 5 3.5 5.5 0 5 3.5 5.5 0 5 4 5-4 5.5 7.5 5-3.5 5.5 3.5 5 0 5.5 3.5 5 0 5.5 0 5 0 5 0 5.5 3.5 5-3.5 5.5 3.5 5 3.5 5.5-3.5 5 3.5 5.5 0 5 3.5 5 0 5.5-3.5 5 0 5.5 0 5 0 5.5 3.5 5-3.5 5 0 5.5 0 5 3.5 5.5 0 5 0 5.5-3.5 5 3.5 5.5 0 5 0 5 0 5.5 0 5 0 5.5 0 5-3.5 5.5 3.5 5 0 5.5-3.5 5 0 5 3.5 5.5-3.5 5 0 5.5 0 5 0 5.5 0 5 0 5.5 0 5-3.5 5 0 5.5 3.5 5-3.5 5.5 0 5 0 5.5 0 5 0 5.5-3.5 5 0 5 3.5 5.5-3.5 5-3.5 5.5 0 5 0 5.5 0 5 0 5.5 0 5-3.5 5-4 5.5 0 5 0 5.5 0 5-3.5 5.5 0 5 0 5 0 5.5 0 5-3.5 5.5 0 5 0 5.5-3.5 5-3.5 5.5 0 5 0 5-3.5 5.5-3.5 5 0 5.5 0 5 0 5.5 0 5-7 5.5 0 5-3.5 5 0 5.5 0 5-3.5 5.5 0 5-3.5 5.5 0 5-3.5 5.5-3.5 5 0 5 0 5.5-3.5 5-4 5.5-3.5 5-3.5 5.5 0 5-3.5 5.5 0 5-3.5 5-3.5 5.5-3.5 5-3.5 5.5 0 5 0 5.5-7 5-3.5 5 0 5.5-3.5 5-3.5 5.5-3.5 5-4 5.5-3.5 5 0 5.5-7 5-7 5 3.5 5.5-3.5 5-3.5 5.5-7 5-3.5 5.5-3.5 5-3.5 5.5-3.5 5-3.5 5-7.5 5.5 0 5-3.5 5.5-7 5-3.5 5.5-3.5 5-3.5 5.5-7 5-3.5 5-3.5 5.5-7 5-3.5 5.5-3.5 5-7.5 5.5-3.5 5-7 5.5-3.5 5-3.5 5-3.5 5.5-7 5-7 5.5-3.5 5-7 5.5-4 5-10.5 5 0 5.5-7 5-3.5 5.5-7 5-3.5 5.5-10.5 5-3.5 5.5-7.5 5-3.5 5-10.5 5.5-3.5 5-7 5.5-7 5-7 5.5-3.5 5-7.5 5.5-7 5-7 5-7 5.5-3.5 5-7 5.5-7 5-7 5.5-7.5 5-7 5.5-3.5 5-10.5 5-7 5.5-3.5 5-10.5 5.5-7 5-4 5.5-10.5 5-7 5.5-3.5 5-10.5 5-7 5.5-7 5-7.5 5.5-3.5 5-10.5 5.5-3.5 5-10.5 5-7 5.5-7 5-7 5.5-7.5 5-7 5.5-3.5 5-10.5 5.5-3.5 5-10.5 5-3.5 5.5-7 5-4 5.5-7 5-7 5.5-10.5 5-3.5 5.5-7 5-3.5 5-7 5.5-4 5-7 5.5-10.5 5-3.5 5.5-3.5 5-7 5.5-3.5 5-7 5-3.5 5.5-3.5 5-7.5 5.5-3.5 5-7 5.5-3.5 5-7 5.5-3.5 5-3.5 5-3.5 5.5-7 5-3.5 5.5-3.5 5-4 5.5-3.5 5-7 5.5-3.5 5 0 5-7 5.5 0 5-7 5.5 0 5-3.5 5.5-7 5 0 5-3.5 5.5-3.5 5 0 5.5-3.5 5-4 5.5-3.5 5-3.5 5.5 0 5-3.5 5 0 5.5 0 5-3.5 5.5-3.5 5 0 5.5-3.5 5 0 5.5-3.5 5 0 5 0 5.5 3.5 5-7 5.5 3.5 5 0 5.5-3.5 5 0 5.5 3.5 5-3.5 5 0 5.5 3.5 5-3.5 5.5 0 5 0 5.5 0 5 3.5 5.5 0 5 0 5 0 5.5 0 5 3.5 5.5 0 5 0 5.5 0 5 3.5 5 0 5.5 0 5 3.5 5.5 3.5 5 0 5.5 0 5 3.5 5.5 0 5 0 5 3.5 5.5 0 5 3.5 5.5 0 5 4 5.5 3.5 5 0 5.5 3.5 5 3.5 5 0 5.5 3.5 5 3.5 5.5 3.5 5 0 5.5 3.5 5 0 5.5 3.5 5 3.5 5 0 5.5 7 5 0 5.5 3.5 5 0 5.5 3.5 5 3.5 5.5 7.5 5 0 5 0 5.5 7 5 0 5.5 3.5 5 3.5 5.5 3.5 5 3.5 5 3.5 5.5 3.5 5 0 5.5 7 5 0 5.5 7 5 3.5 5.5 0 5 7.5 5 0 5.5 3.5 5 3.5 5.5 3.5" stroke="#CCFFCC"/>
<path d="M283 1997l5 53 5.5 53 5 53 5.5 49.5 5 53 5.5 49.5 5 46 5.5 46 5 46 5 38.5 5.5 42.5 5 39 5.5 35.5 5 35 5.5 32 5 32 5.5 31.5 5 28.5 5 24.5 5.5 28.5 5 24.5 5.5 25 5 24.5 5.5 21.5 5 21 5 24.5 5.5 18 5 21 5.5 18 5 14 5.5 17.5 5 17.5 5.5 7.5 5 14 5 14 5.5 7 5 10.5 5.5 14.5 5 7 5.5 7 5 10.5 5.5 7 5 7 5 11 5.5 7 5 7 5.5 3.5 5 7 5.5 3.5 5 10.5 5.5 4 5 3.5 5 3.5 5.5 7 5 3.5 5.5 3.5 5 3.5 5.5 3.5 5 3.5 5.5 3.5 5 3.5 5 3.5 5.5 3.5 5 0 5.5 3.5 5 4 5.5 3.5 5 0 5 3.5 5.5 0 5 3.5 5.5 0 5 3.5 5.5-3.5 5 3.5 5.5 3.5 5 0 5 0 5.5 0 5 0 5.5 3.5 5 0 5.5 3.5 5-3.5 5.5 3.5 5 0 5 0 5.5 0 5 0 5.5 3.5 5-7 5.5 3.5 5 0 5.5 0 5 0 5 0 5.5-3.5 5 0 5.5 3.5 5-3.5 5.5 0 5-3.5 5.5 3.5 5-3.5 5 0 5.5-3.5 5 3.5 5.5-3.5 5 0 5.5 0 5-3.5 5.5 0 5 0 5 0 5.5-3.5 5-3.5 5.5 0 5-3.5 5.5 0 5-4 5-3.5 5.5-3.5 5 0 5.5 0 5-3.5 5.5-3.5 5 0 5.5-3.5 5-3.5 5-3.5 5.5 0 5-3.5 5.5-3.5 5-3.5 5.5-3.5 5-3.5 5.5 0 5-3.5 5-7.5 5.5 0 5-3.5 5.5-7 5-3.5 5.5 0 5-7 5.5-3.5 5-3.5 5-3.5 5.5-3.5 5-7 5.5-3.5 5-4 5.5-3.5 5-3.5 5.5-7 5-3.5 5-7 5.5-3.5 5-3.5 5.5-7 5-3.5 5.5-7 5-4 5-3.5 5.5-7 5-3.5 5.5-7 5-7 5.5-7 5 0 5.5-10.5 5-3.5 5-11 5.5 0 5-7 5.5-7 5-3.5 5.5-7 5-10.5 5.5-3.5 5-7.5 5-7 5.5-7 5-3.5 5.5-10.5 5-7 5.5-7 5-7 5.5-7.5 5-7 5-7 5.5-7 5-7 5.5-10.5 5-3.5 5.5-7.5 5-7 5.5-10.5 5-7 5-10.5 5.5-7 5-7.5 5.5-7 5-7 5.5-10.5 5-10.5 5-7 5.5-7 5-11 5.5-7 5-10.5 5.5-7 5-10.5 5.5-7 5-7.5 5-10.5 5.5-7 5-10.5 5.5-7 5-10.5 5.5-11 5-7 5.5-10.5 5-7 5-7 5.5-10.5 5-11 5.5-7 5-10.5 5.5-7 5-10.5 5.5-7.5 5-10.5 5-10.5 5.5-7 5-7 5.5-7 5-11 5.5-10.5 5-10.5 5.5-7 5-10.5 5-7 5.5-11 5-7 5.5-3.5 5-10.5 5.5-10.5 5-7 5-11 5.5-7 5-7 5.5-7 5-7 5.5-7 5-10.5 5.5-7.5 5-7 5-10.5 5.5-7 5-3.5 5.5-10.5 5-3.5 5.5-7.5 5-10.5 5.5-3.5 5-7 5-7 5.5-7 5-7 5.5-7 5-7.5 5.5-7 5-3.5 5.5-10.5 5-3.5 5-7 5.5-7 5-7 5.5-4 5-7 5.5-3.5 5-7 5.5-7 5-3.5 5-7 5.5-3.5 5-7 5.5-3.5 5-11 5.5 0 5-7 5.5 0 5-7 5-7 5.5-3.5 5-7 5.5-3.5 5-3.5 5.5-7.5 5 0 5-3.5 5.5-7 5-3.5 5.5-3.5 5-3.5 5.5-3.5 5-3.5 5.5-7 5 0 5 0 5.5-3.5 5-3.5 5.5-7.5 5-3.5 5.5 0 5-3.5 5.5-3.5 5 0 5-3.5 5.5 0 5-3.5 5.5 0 5-3.5 5.5 0 5-7 5.5 3.5 5-3.5 5 0 5.5 0 5 0 5.5-3.5 5 0 5.5 0 5-3.5 5.5 3.5 5-3.5 5 3.5 5.5 0 5-3.5 5.5 0 5 3.5 5.5 0 5 0 5 0 5.5 0 5 0 5.5 0 5 0 5.5 3.5 5 0 5.5 0 5 0 5 3.5 5.5 0 5 3.5 5.5 0 5 0 5.5 3.5 5 0 5.5 3.5 5 0 5 3.5 5.5 0 5 3.5 5.5 0 5 3.5 5.5 3.5 5 0 5.5 4 5 3.5 5 0 5.5 3.5 5 0 5.5 3.5 5 3.5 5.5 3.5 5 3.5 5.5 3.5 5 0 5 3.5 5.5 7 5 3.5 5.5-3.5 5 7 5.5 3.5 5 4 5 3.5 5.5 3.5 5 3.5 5.5 3.5 5 3.5 5.5 3.5 5 3.5 5.5 3.5 5 3.5 5 3.5 5.5 3.5 5 0 5.5 3.5" stroke="#0000FF"/>
<path d="M283 2075l5 49.5 5.5 53 5 49.5 5.5 53 5 53 5.5 45.5 5 49.5 5.5 46 5 39 5 42.5 5.5 39 5 35 5.5 35.5 5 28 5.5 35.5 5 28.5 5.5 28 5 25 5 24.5 5.5 25 5 24.5 5.5 21 5 21.5 5.5 21 5 21.5 5 17.5 5.5 17.5 5 18 5.5 17.5 5 17.5 5.5 14.5 5 14 5.5 14 5 10.5 5 11 5.5 10.5 5 14 5.5 7 5 10.5 5.5 7.5 5 7 5.5 10.5 5 0 5 10.5 5.5 7 5 7 5.5 3.5 5 4 5.5 7 5 7 5.5 0 5 3.5 5 3.5 5.5 3.5 5 7 5.5 0 5 7 5.5 0 5 7 5.5 3.5 5 0 5 0 5.5 4 5 3.5 5.5 0 5 3.5 5.5 0 5 0 5 3.5 5.5 3.5 5 0 5.5 0 5 3.5 5.5 0 5 0 5.5 0 5 3.5 5 0 5.5 0 5 0 5.5 0 5 3.5 5.5 0 5-3.5 5.5 0 5 0 5 3.5 5.5-3.5 5 0 5.5 0 5 0 5.5 0 5-3.5 5.5 0 5 0 5 0 5.5 0 5 0 5.5-3.5 5 0 5.5 0 5 0 5.5-3.5 5 0 5-3.5 5.5 0 5-3.5 5.5 0 5 0 5.5-3.5 5-4 5.5 0 5-3.5 5 0 5.5-3.5 5 0 5.5 0 5-7 5.5 0 5-3.5 5-3.5 5.5 0 5-3.5 5.5-3.5 5 0 5.5-3.5 5-3.5 5.5 0 5-3.5 5-3.5 5.5-3.5 5-3.5 5.5-4 5-3.5 5.5 0 5-7 5.5 0 5-3.5 5-7 5.5 0 5-7 5.5-3.5 5-3.5 5.5-3.5 5-3.5 5.5-3.5 5-7.5 5 0 5.5-7 5-3.5 5.5-7 5 0 5.5-3.5 5-10.5 5.5 0 5-7 5-3.5 5.5-3.5 5-7.5 5.5-3.5 5-7 5.5-3.5 5-7 5-3.5 5.5-7 5-3.5 5.5-3.5 5-11 5.5-7 5 0 5.5-7 5-7 5-3.5 5.5-7 5-10.5 5.5-3.5 5-7.5 5.5-7 5-3.5 5.5-7 5-7 5-7 5.5-10.5 5-3.5 5.5-7.5 5-7 5.5-7 5-10.5 5.5-3.5 5-7 5-7 5.5-7.5 5-10.5 5.5-7 5-10.5 5.5-3.5 5-7 5.5-7 5-11 5-10.5 5.5-7 5-10.5 5.5-3.5 5-10.5 5.5-7.5 5-10.5 5-7 5.5-10.5 5-7 5.5-7 5-11 5.5-7 5-10.5 5.5-7 5-10.5 5-10.5 5.5-7.5 5-10.5 5.5-7 5-10.5 5.5-10.5 5-7 5.5-7.5 5-10.5 5-10.5 5.5-10.5 5-7 5.5-11 5-10.5 5.5-7 5-10.5 5.5-7 5-10.5 5-11 5.5-7 5-7 5.5-14 5-7 5.5-10.5 5-7.5 5.5-7 5-10.5 5-7 5.5-7 5-7 5.5-14.5 5-7 5.5-7 5-10.5 5-7 5.5-10.5 5-7.5 5.5-7 5-7 5.5-10.5 5-7 5.5-10.5 5-7.5 5-3.5 5.5-10.5 5-7 5.5-7 5-7 5.5-7 5-7 5.5-11 5-3.5 5-10.5 5.5 0 5-14 5.5-7 5-3.5 5.5-7.5 5-7 5.5-10.5 5-3.5 5-7 5.5-7 5-3.5 5.5-7 5-7.5 5.5-7 5-7 5.5-3.5 5-7 5-3.5 5.5-10.5 5-3.5 5.5-3.5 5-7.5 5.5-3.5 5-3.5 5.5-7 5-3.5 5-7 5.5-7 5-3.5 5.5 0 5-7 5.5-3.5 5-4 5-7 5.5-3.5 5-3.5 5.5-3.5 5-3.5 5.5-3.5 5-3.5 5.5-3.5 5-3.5 5-3.5 5.5-3.5 5-3.5 5.5 0 5-3.5 5.5-4 5-3.5 5.5-3.5 5-3.5 5 0 5.5-3.5 5 0 5.5 0 5-3.5 5.5-3.5 5 0 5.5 0 5 0 5-7 5.5 0 5 0 5.5 0 5 0 5.5-3.5 5 0 5.5 0 5 0 5 0 5.5 0 5-3.5 5.5 3.5 5-3.5 5.5 0 5 0 5 0 5.5 3.5 5 0 5.5 0 5 0 5.5 0 5 3.5 5.5 0 5 0 5 3.5 5.5 0 5 0 5.5 3.5 5-3.5 5.5 3.5 5 3.5 5.5 0 5 3.5 5 0 5.5 0 5 7 5.5 3.5 5 0 5.5 3.5 5 0 5.5 0 5 4 5 3.5 5.5 3.5 5 3.5 5.5 3.5 5 0 5.5 3.5 5 3.5 5.5 3.5 5 3.5 5 3.5 5.5 0 5 3.5 5.5 3.5 5 3.5 5.5 3.5 5 3.5 5 4 5.5 3.5 5 3.5 5.5 0 5 3.5 5.5 7 5 0 5.5 3.5 5 0 5 7 5.5 3.5 5 0 5.5 3.5" stroke="#000000"/>
</g>
<g font-family="Liberation Serif, serif">
<text transform="translate(242.0 3371.3) scale(1 1.035)" font-size="57" fill="#000" text-anchor="end" font-weight="bold">0</text>
<text transform="translate(242.0 3088.6) scale(1 1.035)" font-size="57" fill="#000" text-anchor="end" font-weight="bold">0.04</text>
<text transform="translate(242.0 2805.9) scale(1 1.035)" font-size="57" fill="#000" text-anchor="end" font-weight="bold">0.08</text>
<text transform="translate(242.0 2523.2) scale(1 1.035)" font-size="57" fill="#000" text-anchor="end" font-weight="bold">0.12</text>
<text transform="translate(242.0 2240.5) scale(1 1.035)" font-size="57" fill="#000" text-anchor="end" font-weight="bold">0.16</text>
<text transform="translate(242.0 1957.8) scale(1 1.035)" font-size="57" fill="#000" text-anchor="end" font-weight="bold">0.2</text>
<text transform="translate(283.0 3455.8) scale(1 1.035)" font-size="57" fill="#000" text-anchor="middle" font-weight="bold">400</text>
<text transform="translate(544.0 3455.8) scale(1 1.035)" font-size="57" fill="#000" text-anchor="middle" font-weight="bold">450</text>
<text transform="translate(805.1 3455.8) scale(1 1.035)" font-size="57" fill="#000" text-anchor="middle" font-weight="bold">500</text>
<text transform="translate(1066.2 3455.8) scale(1 1.035)" font-size="57" fill="#000" text-anchor="middle" font-weight="bold">550</text>
<text transform="translate(1327.2 3455.8) scale(1 1.035)" font-size="57" fill="#000" text-anchor="middle" font-weight="bold">600</text>
<text transform="translate(1588.2 3455.8) scale(1 1.035)" font-size="57" fill="#000" text-anchor="middle" font-weight="bold">650</text>
<text transform="translate(1849.3 3455.8) scale(1 1.035)" font-size="57" fill="#000" text-anchor="middle" font-weight="bold">700</text>
<text transform="translate(2110.4 3455.8) scale(1 1.035)" font-size="57" fill="#000" text-anchor="middle" font-weight="bold">750</text>
<text transform="translate(2371.4 3455.8) scale(1 1.035)" font-size="57" fill="#000" text-anchor="middle" font-weight="bold">800</text>
<text transform="translate(1328.0 3576.0) scale(1 1.02)" font-size="67" fill="#000" text-anchor="middle" font-weight="bold">Wavelength (nm)</text>
<text transform="translate(89.6 2642) rotate(-90)" font-size="67" text-anchor="middle" font-weight="bold">Abs.</text>
<text transform="translate(1911.4 2612.8) scale(1 1.04)" font-size="55.4" fill="#000000" text-anchor="start" font-weight="bold">pH=11.51</text>
<text transform="translate(1911.4 2686.6) scale(1 1.04)" font-size="55.4" fill="#0000FF" text-anchor="start" font-weight="bold">pH=10.46</text>
<text transform="translate(1929.6 2765.0) scale(1 1.04)" font-size="55.4" fill="#99CCFF" text-anchor="start" font-weight="bold">pH=7.22</text>
<text transform="translate(1932.8 2838.8) scale(1 1.04)" font-size="55.4" fill="#666699" text-anchor="start" font-weight="bold">pH=6.82</text>
<text transform="translate(1932.8 2916.1) scale(1 1.04)" font-size="55.4" fill="#800080" text-anchor="start" font-weight="bold">pH=6.62</text>
<text transform="translate(1932.8 2993.7) scale(1 1.04)" font-size="55.4" fill="#339966" text-anchor="start" font-weight="bold">pH=5.05</text>
<text transform="translate(1929.6 3072.6) scale(1 1.04)" font-size="55.4" fill="#CCFFCC" text-anchor="start" font-weight="bold">pH=4.24</text>
<text transform="translate(1570.9 2916.1) scale(1 1.04)" font-size="55.4" fill="#FF0000" text-anchor="start" font-weight="bold">pH=1.43</text>
<text transform="translate(1620.2 2993.7) scale(1 1.04)" font-size="55.4" fill="#FF00FF" text-anchor="start" font-weight="bold">pH=1.80</text>
<text transform="translate(1662.8 3072.6) scale(1 1.04)" font-size="55.4" fill="#FF6600" text-anchor="start" font-weight="bold">pH=3.02</text>
<text transform="translate(1783.8 3146.7) scale(1 1.04)" font-size="55.4" fill="#FFCC99" text-anchor="start" font-weight="bold">pH=3.83</text>
</g>
<g stroke="#000" stroke-width="6.6" stroke-linecap="round" stroke-linejoin="round" fill="none">
<path d="M648.6 1958.1L648.6 2408.2L1308.0 2408.2" fill="none"/>
<path d="M633.6 2408.2L648.6 2408.2"/>
<path d="M633.6 2318.2L648.6 2318.2"/>
<path d="M633.6 2228.2L648.6 2228.2"/>
<path d="M633.6 2138.1L648.6 2138.1"/>
<path d="M633.6 2048.1L648.6 2048.1"/>
<path d="M633.6 1958.1L648.6 1958.1"/>
<path d="M648.6 2408.2L648.6 2423.2"/>
<path d="M777.6 2408.2L777.6 2423.2"/>
<path d="M906.5 2408.2L906.5 2423.2"/>
<path d="M1035.5 2408.2L1035.5 2423.2"/>
<path d="M1164.4 2408.2L1164.4 2423.2"/>
<path d="M1293.4 2408.2L1293.4 2423.2"/>
</g>
<g fill="#3366FF">
<circle cx="649.6" cy="2243.4" r="14.2"/>
<circle cx="671.4" cy="2292.7" r="14.2"/>
<circle cx="699.6" cy="2310.7" r="14.2"/>
<circle cx="724.3" cy="2314.0" r="14.2"/>
<circle cx="752.7" cy="2331.8" r="14.2"/>
<circle cx="777.7" cy="2314.0" r="14.2"/>
<circle cx="802.3" cy="2310.7" r="14.2"/>
<circle cx="831.1" cy="2257.3" r="14.2"/>
<circle cx="855.7" cy="2243.3" r="14.2"/>
<circle cx="884.0" cy="2207.7" r="14.2"/>
<circle cx="905.3" cy="2197.3" r="14.2"/>
<circle cx="929.7" cy="2186.6" r="14.2"/>
<circle cx="951.3" cy="2179.5" r="14.2"/>
<circle cx="983.5" cy="2175.7" r="14.2"/>
<circle cx="997.4" cy="2105.2" r="14.2"/>
<circle cx="1022.3" cy="2051.8" r="14.2"/>
<circle cx="1047.2" cy="2027.1" r="14.2"/>
<circle cx="1071.9" cy="2041.4" r="14.2"/>
<circle cx="1103.9" cy="2016.5" r="14.2"/>
<circle cx="1164.2" cy="1995.3" r="14.2"/>
<circle cx="1231.5" cy="1984.5" r="14.2"/>
<circle cx="1299.0" cy="2016.5" r="14.2"/>
</g>
<g font-family="Liberation Serif, serif">
<text transform="translate(615.8 2425.0) scale(1 1.08)" font-size="44.5" fill="#000" text-anchor="end" font-weight="normal">0.1</text>
<text transform="translate(615.8 2335.0) scale(1 1.08)" font-size="44.5" fill="#000" text-anchor="end" font-weight="normal">0.12</text>
<text transform="translate(615.8 2245.0) scale(1 1.08)" font-size="44.5" fill="#000" text-anchor="end" font-weight="normal">0.14</text>
<text transform="translate(615.8 2154.9) scale(1 1.08)" font-size="44.5" fill="#000" text-anchor="end" font-weight="normal">0.16</text>
<text transform="translate(615.8 2064.9) scale(1 1.08)" font-size="44.5" fill="#000" text-anchor="end" font-weight="normal">0.18</text>
<text transform="translate(615.8 1974.9) scale(1 1.08)" font-size="44.5" fill="#000" text-anchor="end" font-weight="normal">0.2</text>
<text transform="translate(650.6 2491.5) scale(1 1.08)" font-size="44.5" fill="#000" text-anchor="middle" font-weight="normal">1.4</text>
<text transform="translate(779.6 2491.5) scale(1 1.08)" font-size="44.5" fill="#000" text-anchor="middle" font-weight="normal">3.4</text>
<text transform="translate(908.5 2491.5) scale(1 1.08)" font-size="44.5" fill="#000" text-anchor="middle" font-weight="normal">5.4</text>
<text transform="translate(1037.5 2491.5) scale(1 1.08)" font-size="44.5" fill="#000" text-anchor="middle" font-weight="normal">7.4</text>
<text transform="translate(1166.4 2491.5) scale(1 1.08)" font-size="44.5" fill="#000" text-anchor="middle" font-weight="normal">9.4</text>
<text transform="translate(1295.4 2491.5) scale(1 1.08)" font-size="44.5" fill="#000" text-anchor="middle" font-weight="normal">11.4</text>
<text x="982.0" y="2574.6" font-size="46" fill="#000" text-anchor="middle" font-weight="bold">pH</text>
<text transform="translate(498.7 2183) rotate(-90)" font-size="46" text-anchor="middle" font-weight="bold">A<tspan font-size="32">740</tspan></text>
</g>
</svg>
</body></html>
